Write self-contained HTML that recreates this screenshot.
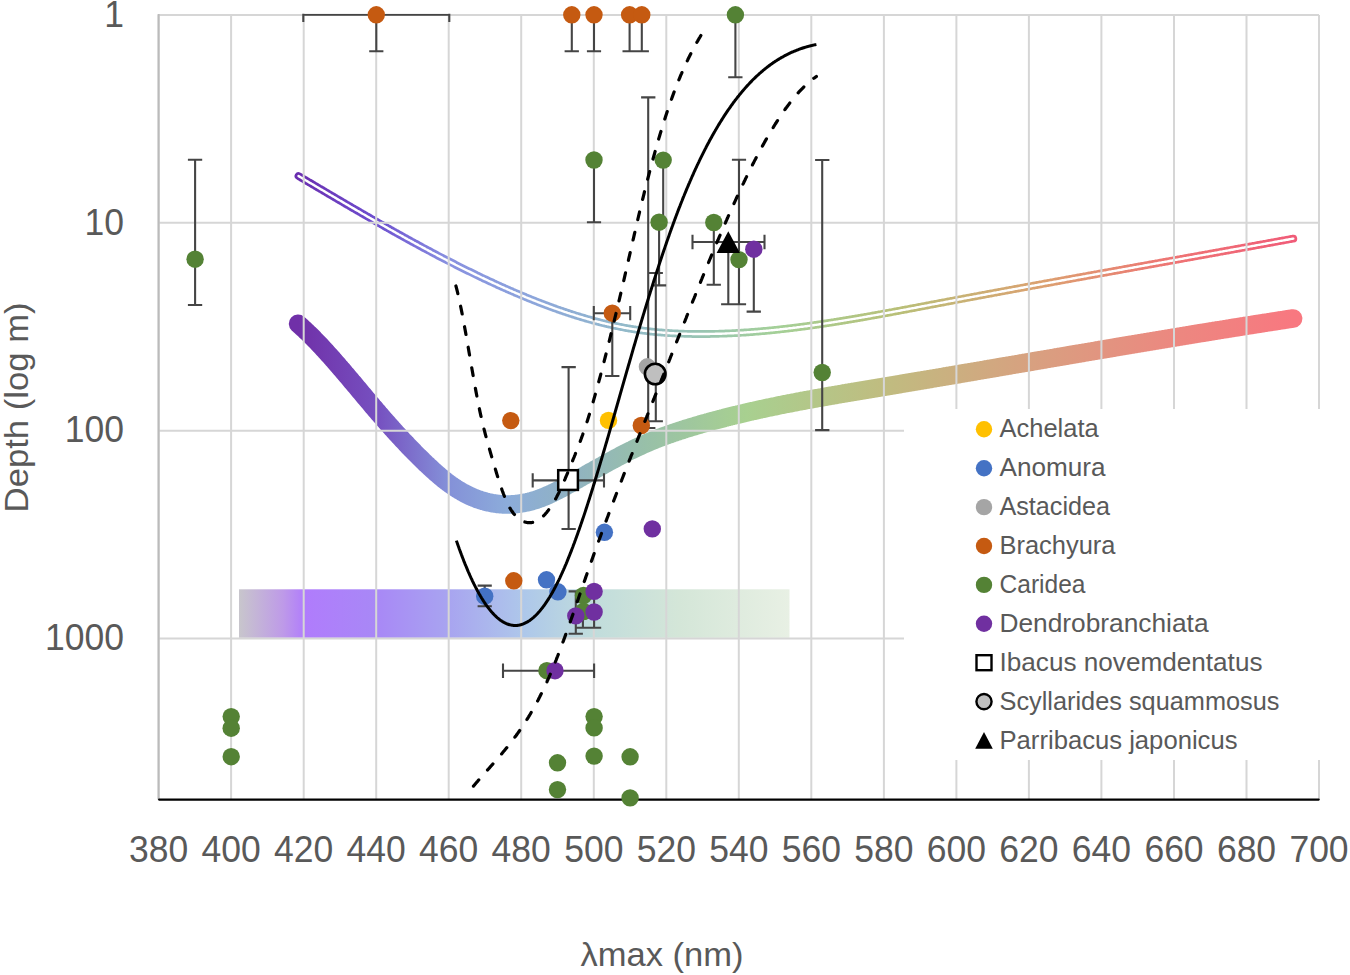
<!DOCTYPE html><html><head><meta charset="utf-8"><style>html,body{margin:0;padding:0;background:#fff;width:1350px;height:975px;overflow:hidden}svg{display:block}text{font-family:"Liberation Sans",sans-serif;fill:#595959}</style></head><body>
<svg width="1350" height="975" viewBox="0 0 1350 975">
<defs>
<linearGradient id="gThick" gradientUnits="userSpaceOnUse" x1="298" y1="0" x2="1293" y2="0"><stop offset="0" stop-color="#7030A8"/><stop offset="0.08" stop-color="#7650C0"/><stop offset="0.15" stop-color="#8490D8"/><stop offset="0.21" stop-color="#8CACDA"/><stop offset="0.27" stop-color="#90B2C4"/><stop offset="0.35" stop-color="#98C0A8"/><stop offset="0.45" stop-color="#A8D090"/><stop offset="0.59" stop-color="#C0BC80"/><stop offset="0.74" stop-color="#D8A080"/><stop offset="0.88" stop-color="#EC8880"/><stop offset="1" stop-color="#F87880"/></linearGradient>
<linearGradient id="gThin" gradientUnits="userSpaceOnUse" x1="298" y1="0" x2="1293" y2="0"><stop offset="0" stop-color="#6A2EB0"/><stop offset="0.08" stop-color="#6E50D0"/><stop offset="0.15" stop-color="#8890E0"/><stop offset="0.23" stop-color="#8CA4DC"/><stop offset="0.32" stop-color="#92B8CC"/><stop offset="0.40" stop-color="#98C4B4"/><stop offset="0.48" stop-color="#A4D098"/><stop offset="0.60" stop-color="#B8C078"/><stop offset="0.75" stop-color="#DCA070"/><stop offset="0.88" stop-color="#EE7474"/><stop offset="1" stop-color="#F05C78"/></linearGradient>
<linearGradient id="gBar" gradientUnits="userSpaceOnUse" x1="239" y1="0" x2="789.5" y2="0"><stop offset="0" stop-color="#C8C6CC"/><stop offset="0.08" stop-color="#BE9AE8"/><stop offset="0.12" stop-color="#B07CFC"/><stop offset="0.25" stop-color="#A888F6"/><stop offset="0.38" stop-color="#A8A4F0"/><stop offset="0.52" stop-color="#AEC8EA"/><stop offset="0.64" stop-color="#C0DCDC"/><stop offset="0.80" stop-color="#D4E6D8"/><stop offset="1" stop-color="#E8F0E4"/></linearGradient>
<clipPath id="plot"><rect x="156.6" y="13.7" width="1164.4" height="785.9"/></clipPath>
</defs>
<rect width="1350" height="975" fill="#fff"/>
<rect x="239" y="589.3" width="550.5" height="48.5" fill="url(#gBar)"/>
<path d="M298.1,323.8 L299.1,324.7 L300.1,325.6 L301.1,326.4 L302.1,327.4 L303.1,328.3 L304.1,329.2 L305.1,330.1 L306.1,331.1 L307.1,332.0 L308.1,333.0 L309.1,334.0 L310.1,334.9 L311.1,335.9 L312.1,336.9 L313.1,337.9 L314.1,338.9 L315.1,340.0 L316.1,341.0 L317.1,342.0 L318.1,343.1 L319.1,344.1 L320.1,345.2 L321.1,346.2 L322.1,347.3 L323.1,348.4 L324.1,349.5 L325.1,350.6 L326.1,351.6 L327.1,352.8 L328.1,353.9 L329.1,355.0 L330.1,356.1 L331.1,357.2 L332.1,358.3 L333.1,359.5 L334.1,360.6 L335.1,361.8 L336.1,362.9 L337.1,364.0 L338.1,365.2 L339.1,366.4 L340.1,367.5 L341.1,368.7 L342.1,369.8 L343.1,371.0 L344.1,372.2 L345.1,373.4 L346.1,374.5 L347.1,375.7 L348.1,376.9 L349.1,378.1 L350.1,379.3 L351.1,380.5 L352.1,381.7 L353.1,382.8 L354.1,384.0 L355.1,385.2 L356.1,386.4 L357.1,387.6 L358.1,388.8 L359.1,390.0 L360.1,391.2 L361.1,392.4 L362.1,393.6 L363.1,394.8 L364.1,396.0 L365.1,397.2 L366.1,398.4 L367.1,399.6 L368.1,400.7 L369.1,401.9 L370.1,403.1 L371.1,404.3 L372.1,405.5 L373.1,406.7 L374.1,407.8 L375.1,409.0 L376.1,410.2 L377.1,411.3 L378.1,412.5 L379.1,413.7 L380.1,414.8 L381.1,416.0 L382.1,417.1 L383.1,418.3 L384.1,419.4 L385.1,420.6 L386.1,421.7 L387.1,422.8 L388.1,424.0 L389.1,425.1 L390.1,426.2 L391.1,427.3 L392.1,428.5 L393.1,429.6 L394.1,430.7 L395.1,431.8 L396.1,432.9 L397.1,434.0 L398.1,435.1 L399.1,436.2 L400.1,437.2 L401.1,438.3 L402.1,439.4 L403.1,440.5 L404.1,441.5 L405.1,442.6 L406.1,443.7 L407.1,444.7 L408.1,445.8 L409.1,446.8 L410.1,447.8 L411.1,448.9 L412.1,449.9 L413.1,450.9 L414.1,451.9 L415.1,453.0 L416.1,454.0 L417.1,455.0 L418.1,456.0 L419.1,457.0 L420.1,457.9 L421.1,458.9 L422.1,459.9 L423.1,460.9 L424.1,461.8 L425.1,462.8 L426.1,463.8 L427.1,464.7 L428.1,465.7 L429.1,466.6 L430.1,467.5 L431.1,468.4 L432.1,469.4 L433.1,470.3 L434.1,471.2 L435.1,472.1 L436.1,473.0 L437.1,473.8 L438.1,474.7 L439.1,475.6 L440.1,476.4 L441.1,477.2 L442.1,478.1 L443.1,478.9 L444.1,479.7 L445.1,480.5 L446.1,481.3 L447.1,482.0 L448.1,482.8 L449.1,483.5 L450.1,484.3 L451.1,485.0 L452.1,485.7 L453.1,486.4 L454.1,487.0 L455.1,487.7 L456.1,488.4 L457.1,489.0 L458.1,489.6 L459.1,490.2 L460.1,490.8 L461.1,491.4 L462.1,492.0 L463.1,492.5 L464.1,493.1 L465.1,493.6 L466.1,494.1 L467.1,494.6 L468.1,495.1 L469.1,495.6 L470.1,496.1 L471.1,496.5 L472.1,497.0 L473.1,497.4 L474.1,497.8 L475.1,498.2 L476.1,498.6 L477.1,499.0 L478.1,499.3 L479.1,499.7 L480.1,500.0 L481.1,500.3 L482.1,500.7 L483.1,501.0 L484.1,501.2 L485.1,501.5 L486.1,501.8 L487.1,502.0 L488.1,502.3 L489.1,502.5 L490.1,502.7 L491.1,502.9 L492.1,503.1 L493.1,503.3 L494.1,503.5 L495.1,503.6 L496.1,503.7 L497.1,503.9 L498.1,504.0 L499.1,504.1 L500.1,504.2 L501.1,504.3 L502.1,504.3 L503.1,504.4 L504.1,504.4 L505.1,504.5 L506.1,504.5 L507.1,504.5 L508.1,504.5 L509.1,504.5 L510.1,504.5 L511.1,504.4 L512.1,504.4 L513.1,504.3 L514.1,504.2 L515.1,504.2 L516.1,504.1 L517.1,504.0 L518.1,503.8 L519.1,503.7 L520.1,503.6 L521.1,503.4 L522.1,503.2 L523.1,503.1 L524.1,502.9 L525.1,502.7 L526.1,502.5 L527.1,502.3 L528.1,502.0 L529.1,501.8 L530.1,501.5 L531.1,501.3 L532.1,501.0 L533.1,500.7 L534.1,500.4 L535.1,500.1 L536.1,499.8 L537.1,499.4 L538.1,499.1 L539.1,498.7 L540.1,498.4 L541.1,498.0 L542.1,497.6 L543.1,497.2 L544.1,496.8 L545.1,496.4 L546.1,496.0 L547.1,495.5 L548.1,495.1 L549.1,494.6 L550.1,494.2 L551.1,493.7 L552.1,493.2 L553.1,492.8 L554.1,492.3 L555.1,491.8 L556.1,491.3 L557.1,490.8 L558.1,490.2 L559.1,489.7 L560.1,489.2 L561.1,488.7 L562.1,488.1 L563.1,487.6 L564.1,487.0 L565.1,486.5 L566.1,486.0 L567.1,485.4 L568.1,484.8 L569.1,484.3 L570.1,483.7 L571.1,483.2 L572.1,482.6 L573.1,482.0 L574.1,481.4 L575.1,480.9 L576.1,480.3 L577.1,479.7 L578.1,479.2 L579.1,478.6 L580.1,478.0 L581.1,477.5 L582.1,476.9 L583.1,476.3 L584.1,475.7 L585.1,475.2 L586.1,474.6 L587.1,474.1 L588.1,473.5 L589.1,472.9 L590.1,472.4 L591.1,471.8 L592.1,471.2 L593.1,470.7 L594.1,470.1 L595.1,469.6 L596.1,469.0 L597.1,468.4 L598.1,467.9 L599.1,467.3 L600.1,466.8 L601.1,466.2 L602.1,465.7 L603.1,465.1 L604.1,464.6 L605.1,464.0 L606.1,463.5 L607.1,462.9 L608.1,462.4 L609.1,461.8 L610.1,461.3 L611.1,460.7 L612.1,460.2 L613.1,459.7 L614.1,459.1 L615.1,458.6 L616.1,458.1 L617.1,457.5 L618.1,457.0 L619.1,456.5 L620.1,455.9 L621.1,455.4 L622.1,454.9 L623.1,454.4 L624.1,453.9 L625.1,453.4 L626.1,452.8 L627.1,452.3 L628.1,451.8 L629.1,451.3 L630.1,450.8 L631.1,450.3 L632.1,449.9 L633.1,449.4 L634.1,448.9 L635.1,448.4 L636.1,447.9 L637.1,447.4 L638.1,447.0 L639.1,446.5 L640.1,446.1 L641.1,445.6 L642.1,445.1 L643.1,444.7 L644.1,444.2 L645.1,443.8 L646.1,443.4 L647.1,442.9 L648.1,442.5 L649.1,442.1 L650.1,441.7 L651.1,441.2 L652.1,440.8 L653.1,440.4 L654.1,440.0 L655.1,439.6 L656.1,439.2 L657.1,438.8 L658.1,438.4 L659.1,438.0 L660.1,437.7 L661.1,437.3 L662.1,436.9 L663.1,436.5 L664.1,436.2 L665.1,435.8 L666.1,435.4 L667.1,435.1 L668.1,434.7 L669.1,434.3 L670.1,434.0 L671.1,433.6 L672.1,433.3 L673.1,432.9 L674.1,432.6 L675.1,432.3 L676.1,431.9 L677.1,431.6 L678.1,431.3 L679.1,430.9 L680.1,430.6 L681.1,430.3 L682.1,430.0 L683.1,429.6 L684.1,429.3 L685.1,429.0 L686.1,428.7 L687.1,428.4 L688.1,428.1 L689.1,427.8 L690.1,427.5 L691.1,427.2 L692.1,426.9 L693.1,426.6 L694.1,426.3 L695.1,426.0 L696.1,425.7 L697.1,425.4 L698.1,425.1 L699.1,424.8 L700.1,424.5 L701.1,424.2 L702.1,423.9 L703.1,423.7 L704.1,423.4 L705.1,423.1 L706.1,422.8 L707.1,422.5 L708.1,422.3 L709.1,422.0 L710.1,421.7 L711.1,421.4 L712.1,421.2 L713.1,420.9 L714.1,420.6 L715.1,420.4 L716.1,420.1 L717.1,419.8 L718.1,419.6 L719.1,419.3 L720.1,419.0 L721.1,418.8 L722.1,418.5 L723.1,418.3 L724.1,418.0 L725.1,417.7 L726.1,417.5 L727.1,417.2 L728.1,417.0 L729.1,416.7 L730.1,416.5 L731.1,416.2 L732.1,416.0 L733.1,415.7 L734.1,415.5 L735.1,415.2 L736.1,415.0 L737.1,414.8 L738.1,414.5 L739.1,414.3 L740.1,414.0 L741.1,413.8 L742.1,413.6 L743.1,413.3 L744.1,413.1 L745.1,412.9 L746.1,412.6 L747.1,412.4 L748.1,412.2 L749.1,411.9 L750.1,411.7 L751.1,411.5 L752.1,411.2 L753.1,411.0 L754.1,410.8 L755.1,410.6 L756.1,410.3 L757.1,410.1 L758.1,409.9 L759.1,409.7 L760.1,409.5 L761.1,409.2 L762.1,409.0 L763.1,408.8 L764.1,408.6 L765.1,408.4 L766.1,408.2 L767.1,407.9 L768.1,407.7 L769.1,407.5 L770.1,407.3 L771.1,407.1 L772.1,406.9 L773.1,406.7 L774.1,406.5 L775.1,406.3 L776.1,406.1 L777.1,405.9 L778.1,405.7 L779.1,405.4 L780.1,405.2 L781.1,405.0 L782.1,404.8 L783.1,404.6 L784.1,404.4 L785.1,404.2 L786.1,404.0 L787.1,403.8 L788.1,403.6 L789.1,403.5 L790.1,403.3 L791.1,403.1 L792.1,402.9 L793.1,402.7 L794.1,402.5 L795.1,402.3 L796.1,402.1 L797.1,401.9 L798.1,401.7 L799.1,401.5 L800.1,401.3 L801.1,401.1 L802.1,401.0 L803.1,400.8 L804.1,400.6 L805.1,400.4 L806.1,400.2 L807.1,400.0 L808.1,399.8 L809.1,399.7 L810.1,399.5 L811.1,399.3 L812.1,399.1 L813.1,398.9 L814.1,398.7 L815.1,398.6 L816.1,398.4 L817.1,398.2 L818.1,398.0 L819.1,397.8 L820.1,397.7 L821.1,397.5 L822.1,397.3 L823.1,397.1 L824.1,396.9 L825.1,396.8 L826.1,396.6 L827.1,396.4 L828.1,396.2 L829.1,396.1 L830.1,395.9 L831.1,395.7 L832.1,395.5 L833.1,395.4 L834.1,395.2 L835.1,395.0 L836.1,394.9 L837.1,394.7 L838.1,394.5 L839.1,394.3 L840.1,394.2 L841.1,394.0 L842.1,393.8 L843.1,393.6 L844.1,393.5 L845.1,393.3 L846.1,393.1 L847.1,393.0 L848.1,392.8 L849.1,392.6 L850.1,392.5 L851.1,392.3 L852.1,392.1 L853.1,392.0 L854.1,391.8 L855.1,391.6 L856.1,391.4 L857.1,391.3 L858.1,391.1 L859.1,390.9 L860.1,390.8 L861.1,390.6 L862.1,390.4 L863.1,390.3 L864.1,390.1 L865.1,389.9 L866.1,389.8 L867.1,389.6 L868.1,389.4 L869.1,389.3 L870.1,389.1 L871.1,388.9 L872.1,388.8 L873.1,388.6 L874.1,388.4 L875.1,388.3 L876.1,388.1 L877.1,387.9 L878.1,387.8 L879.1,387.6 L880.1,387.4 L881.1,387.3 L882.1,387.1 L883.1,386.9 L884.1,386.8 L885.1,386.6 L886.1,386.4 L887.1,386.3 L888.1,386.1 L889.1,385.9 L890.1,385.8 L891.1,385.6 L892.1,385.4 L893.1,385.3 L894.1,385.1 L895.1,384.9 L896.1,384.8 L897.1,384.6 L898.1,384.4 L899.1,384.3 L900.1,384.1 L901.1,383.9 L902.1,383.7 L903.1,383.6 L904.1,383.4 L905.1,383.2 L906.1,383.1 L907.1,382.9 L908.1,382.7 L909.1,382.6 L910.1,382.4 L911.1,382.2 L912.1,382.1 L913.1,381.9 L914.1,381.7 L915.1,381.6 L916.1,381.4 L917.1,381.2 L918.1,381.1 L919.1,380.9 L920.1,380.7 L921.1,380.5 L922.1,380.4 L923.1,380.2 L924.1,380.0 L925.1,379.9 L926.1,379.7 L927.1,379.5 L928.1,379.4 L929.1,379.2 L930.1,379.0 L931.1,378.9 L932.1,378.7 L933.1,378.5 L934.1,378.3 L935.1,378.2 L936.1,378.0 L937.1,377.8 L938.1,377.7 L939.1,377.5 L940.1,377.3 L941.1,377.2 L942.1,377.0 L943.1,376.8 L944.1,376.6 L945.1,376.5 L946.1,376.3 L947.1,376.1 L948.1,376.0 L949.1,375.8 L950.1,375.6 L951.1,375.5 L952.1,375.3 L953.1,375.1 L954.1,374.9 L955.1,374.8 L956.1,374.6 L957.1,374.4 L958.1,374.3 L959.1,374.1 L960.1,373.9 L961.1,373.7 L962.1,373.6 L963.1,373.4 L964.1,373.2 L965.1,373.1 L966.1,372.9 L967.1,372.7 L968.1,372.5 L969.1,372.4 L970.1,372.2 L971.1,372.0 L972.1,371.9 L973.1,371.7 L974.1,371.5 L975.1,371.4 L976.1,371.2 L977.1,371.0 L978.1,370.8 L979.1,370.7 L980.1,370.5 L981.1,370.3 L982.1,370.2 L983.1,370.0 L984.1,369.8 L985.1,369.6 L986.1,369.5 L987.1,369.3 L988.1,369.1 L989.1,369.0 L990.1,368.8 L991.1,368.6 L992.1,368.4 L993.1,368.3 L994.1,368.1 L995.1,367.9 L996.1,367.8 L997.1,367.6 L998.1,367.4 L999.1,367.2 L1000.1,367.1 L1001.1,366.9 L1002.1,366.7 L1003.1,366.6 L1004.1,366.4 L1005.1,366.2 L1006.1,366.0 L1007.1,365.9 L1008.1,365.7 L1009.1,365.5 L1010.1,365.4 L1011.1,365.2 L1012.1,365.0 L1013.1,364.8 L1014.1,364.7 L1015.1,364.5 L1016.1,364.3 L1017.1,364.2 L1018.1,364.0 L1019.1,363.8 L1020.1,363.6 L1021.1,363.5 L1022.1,363.3 L1023.1,363.1 L1024.1,363.0 L1025.1,362.8 L1026.1,362.6 L1027.1,362.4 L1028.1,362.3 L1029.1,362.1 L1030.1,361.9 L1031.1,361.8 L1032.1,361.6 L1033.1,361.4 L1034.1,361.2 L1035.1,361.1 L1036.1,360.9 L1037.1,360.7 L1038.1,360.6 L1039.1,360.4 L1040.1,360.2 L1041.1,360.0 L1042.1,359.9 L1043.1,359.7 L1044.1,359.5 L1045.1,359.4 L1046.1,359.2 L1047.1,359.0 L1048.1,358.8 L1049.1,358.7 L1050.1,358.5 L1051.1,358.3 L1052.1,358.2 L1053.1,358.0 L1054.1,357.8 L1055.1,357.6 L1056.1,357.5 L1057.1,357.3 L1058.1,357.1 L1059.1,357.0 L1060.1,356.8 L1061.1,356.6 L1062.1,356.4 L1063.1,356.3 L1064.1,356.1 L1065.1,355.9 L1066.1,355.8 L1067.1,355.6 L1068.1,355.4 L1069.1,355.2 L1070.1,355.1 L1071.1,354.9 L1072.1,354.7 L1073.1,354.6 L1074.1,354.4 L1075.1,354.2 L1076.1,354.1 L1077.1,353.9 L1078.1,353.7 L1079.1,353.5 L1080.1,353.4 L1081.1,353.2 L1082.1,353.0 L1083.1,352.9 L1084.1,352.7 L1085.1,352.5 L1086.1,352.3 L1087.1,352.2 L1088.1,352.0 L1089.1,351.8 L1090.1,351.7 L1091.1,351.5 L1092.1,351.3 L1093.1,351.2 L1094.1,351.0 L1095.1,350.8 L1096.1,350.6 L1097.1,350.5 L1098.1,350.3 L1099.1,350.1 L1100.1,350.0 L1101.1,349.8 L1102.1,349.6 L1103.1,349.5 L1104.1,349.3 L1105.1,349.1 L1106.1,348.9 L1107.1,348.8 L1108.1,348.6 L1109.1,348.4 L1110.1,348.3 L1111.1,348.1 L1112.1,347.9 L1113.1,347.8 L1114.1,347.6 L1115.1,347.4 L1116.1,347.2 L1117.1,347.1 L1118.1,346.9 L1119.1,346.7 L1120.1,346.6 L1121.1,346.4 L1122.1,346.2 L1123.1,346.1 L1124.1,345.9 L1125.1,345.7 L1126.1,345.6 L1127.1,345.4 L1128.1,345.2 L1129.1,345.1 L1130.1,344.9 L1131.1,344.7 L1132.1,344.5 L1133.1,344.4 L1134.1,344.2 L1135.1,344.0 L1136.1,343.9 L1137.1,343.7 L1138.1,343.5 L1139.1,343.4 L1140.1,343.2 L1141.1,343.0 L1142.1,342.9 L1143.1,342.7 L1144.1,342.5 L1145.1,342.4 L1146.1,342.2 L1147.1,342.0 L1148.1,341.9 L1149.1,341.7 L1150.1,341.5 L1151.1,341.4 L1152.1,341.2 L1153.1,341.0 L1154.1,340.9 L1155.1,340.7 L1156.1,340.5 L1157.1,340.4 L1158.1,340.2 L1159.1,340.0 L1160.1,339.9 L1161.1,339.7 L1162.1,339.5 L1163.1,339.4 L1164.1,339.2 L1165.1,339.0 L1166.1,338.9 L1167.1,338.7 L1168.1,338.5 L1169.1,338.4 L1170.1,338.2 L1171.1,338.0 L1172.1,337.9 L1173.1,337.7 L1174.1,337.5 L1175.1,337.4 L1176.1,337.2 L1177.1,337.0 L1178.1,336.9 L1179.1,336.7 L1180.1,336.5 L1181.1,336.4 L1182.1,336.2 L1183.1,336.0 L1184.1,335.9 L1185.1,335.7 L1186.1,335.5 L1187.1,335.4 L1188.1,335.2 L1189.1,335.0 L1190.1,334.9 L1191.1,334.7 L1192.1,334.6 L1193.1,334.4 L1194.1,334.2 L1195.1,334.1 L1196.1,333.9 L1197.1,333.7 L1198.1,333.6 L1199.1,333.4 L1200.1,333.2 L1201.1,333.1 L1202.1,332.9 L1203.1,332.8 L1204.1,332.6 L1205.1,332.4 L1206.1,332.3 L1207.1,332.1 L1208.1,331.9 L1209.1,331.8 L1210.1,331.6 L1211.1,331.5 L1212.1,331.3 L1213.1,331.1 L1214.1,331.0 L1215.1,330.8 L1216.1,330.6 L1217.1,330.5 L1218.1,330.3 L1219.1,330.2 L1220.1,330.0 L1221.1,329.8 L1222.1,329.7 L1223.1,329.5 L1224.1,329.3 L1225.1,329.2 L1226.1,329.0 L1227.1,328.9 L1228.1,328.7 L1229.1,328.5 L1230.1,328.4 L1231.1,328.2 L1232.1,328.1 L1233.1,327.9 L1234.1,327.7 L1235.1,327.6 L1236.1,327.4 L1237.1,327.3 L1238.1,327.1 L1239.1,326.9 L1240.1,326.8 L1241.1,326.6 L1242.1,326.5 L1243.1,326.3 L1244.1,326.1 L1245.1,326.0 L1246.1,325.8 L1247.1,325.7 L1248.1,325.5 L1249.1,325.3 L1250.1,325.2 L1251.1,325.0 L1252.1,324.9 L1253.1,324.7 L1254.1,324.6 L1255.1,324.4 L1256.1,324.2 L1257.1,324.1 L1258.1,323.9 L1259.1,323.8 L1260.1,323.6 L1261.1,323.4 L1262.1,323.3 L1263.1,323.1 L1264.1,323.0 L1265.1,322.8 L1266.1,322.7 L1267.1,322.5 L1268.1,322.3 L1269.1,322.2 L1270.1,322.0 L1271.1,321.9 L1272.1,321.7 L1273.1,321.6 L1274.1,321.4 L1275.1,321.3 L1276.1,321.1 L1277.1,320.9 L1278.1,320.8 L1279.1,320.6 L1280.1,320.5 L1281.1,320.3 L1282.1,320.2 L1283.1,320.0 L1284.1,319.9 L1285.1,319.7 L1286.1,319.6 L1287.1,319.4 L1288.1,319.2 L1289.1,319.1 L1290.1,318.9 L1291.1,318.8 L1292.1,318.6 L1293.1,318.5" fill="none" stroke="url(#gThick)" stroke-width="18.6" stroke-linecap="round" stroke-linejoin="round"/>
<path d="M298.5,176.0 L299.5,176.6 L300.5,177.2 L301.5,177.8 L302.5,178.4 L303.5,179.0 L304.5,179.6 L305.5,180.2 L306.5,180.8 L307.5,181.4 L308.5,182.0 L309.5,182.6 L310.5,183.1 L311.5,183.7 L312.5,184.3 L313.5,184.9 L314.5,185.5 L315.5,186.1 L316.5,186.7 L317.5,187.3 L318.5,187.9 L319.5,188.5 L320.5,189.1 L321.5,189.6 L322.5,190.2 L323.5,190.8 L324.5,191.4 L325.5,192.0 L326.5,192.6 L327.5,193.2 L328.5,193.8 L329.5,194.4 L330.5,195.0 L331.5,195.5 L332.5,196.1 L333.5,196.7 L334.5,197.3 L335.5,197.9 L336.5,198.5 L337.5,199.1 L338.5,199.7 L339.5,200.3 L340.5,200.8 L341.5,201.4 L342.5,202.0 L343.5,202.6 L344.5,203.2 L345.5,203.8 L346.5,204.4 L347.5,204.9 L348.5,205.5 L349.5,206.1 L350.5,206.7 L351.5,207.3 L352.5,207.9 L353.5,208.4 L354.5,209.0 L355.5,209.6 L356.5,210.2 L357.5,210.8 L358.5,211.3 L359.5,211.9 L360.5,212.5 L361.5,213.1 L362.5,213.7 L363.5,214.2 L364.5,214.8 L365.5,215.4 L366.5,216.0 L367.5,216.6 L368.5,217.1 L369.5,217.7 L370.5,218.3 L371.5,218.9 L372.5,219.4 L373.5,220.0 L374.5,220.6 L375.5,221.2 L376.5,221.7 L377.5,222.3 L378.5,222.9 L379.5,223.4 L380.5,224.0 L381.5,224.6 L382.5,225.1 L383.5,225.7 L384.5,226.3 L385.5,226.9 L386.5,227.4 L387.5,228.0 L388.5,228.6 L389.5,229.1 L390.5,229.7 L391.5,230.2 L392.5,230.8 L393.5,231.4 L394.5,231.9 L395.5,232.5 L396.5,233.1 L397.5,233.6 L398.5,234.2 L399.5,234.7 L400.5,235.3 L401.5,235.8 L402.5,236.4 L403.5,237.0 L404.5,237.5 L405.5,238.1 L406.5,238.6 L407.5,239.2 L408.5,239.7 L409.5,240.3 L410.5,240.8 L411.5,241.4 L412.5,241.9 L413.5,242.5 L414.5,243.0 L415.5,243.6 L416.5,244.1 L417.5,244.6 L418.5,245.2 L419.5,245.7 L420.5,246.3 L421.5,246.8 L422.5,247.4 L423.5,247.9 L424.5,248.4 L425.5,249.0 L426.5,249.5 L427.5,250.0 L428.5,250.6 L429.5,251.1 L430.5,251.6 L431.5,252.2 L432.5,252.7 L433.5,253.2 L434.5,253.8 L435.5,254.3 L436.5,254.8 L437.5,255.4 L438.5,255.9 L439.5,256.4 L440.5,256.9 L441.5,257.4 L442.5,258.0 L443.5,258.5 L444.5,259.0 L445.5,259.5 L446.5,260.0 L447.5,260.6 L448.5,261.1 L449.5,261.6 L450.5,262.1 L451.5,262.6 L452.5,263.1 L453.5,263.6 L454.5,264.1 L455.5,264.7 L456.5,265.2 L457.5,265.7 L458.5,266.2 L459.5,266.7 L460.5,267.2 L461.5,267.7 L462.5,268.2 L463.5,268.7 L464.5,269.2 L465.5,269.7 L466.5,270.2 L467.5,270.7 L468.5,271.2 L469.5,271.6 L470.5,272.1 L471.5,272.6 L472.5,273.1 L473.5,273.6 L474.5,274.1 L475.5,274.6 L476.5,275.1 L477.5,275.5 L478.5,276.0 L479.5,276.5 L480.5,277.0 L481.5,277.5 L482.5,277.9 L483.5,278.4 L484.5,278.9 L485.5,279.3 L486.5,279.8 L487.5,280.3 L488.5,280.8 L489.5,281.2 L490.5,281.7 L491.5,282.1 L492.5,282.6 L493.5,283.1 L494.5,283.5 L495.5,284.0 L496.5,284.4 L497.5,284.9 L498.5,285.4 L499.5,285.8 L500.5,286.3 L501.5,286.7 L502.5,287.2 L503.5,287.6 L504.5,288.1 L505.5,288.5 L506.5,288.9 L507.5,289.4 L508.5,289.8 L509.5,290.3 L510.5,290.7 L511.5,291.1 L512.5,291.6 L513.5,292.0 L514.5,292.4 L515.5,292.9 L516.5,293.3 L517.5,293.7 L518.5,294.1 L519.5,294.6 L520.5,295.0 L521.5,295.4 L522.5,295.8 L523.5,296.2 L524.5,296.6 L525.5,297.1 L526.5,297.5 L527.5,297.9 L528.5,298.3 L529.5,298.7 L530.5,299.1 L531.5,299.5 L532.5,299.9 L533.5,300.3 L534.5,300.7 L535.5,301.1 L536.5,301.5 L537.5,301.9 L538.5,302.3 L539.5,302.7 L540.5,303.1 L541.5,303.4 L542.5,303.8 L543.5,304.2 L544.5,304.6 L545.5,305.0 L546.5,305.3 L547.5,305.7 L548.5,306.1 L549.5,306.5 L550.5,306.8 L551.5,307.2 L552.5,307.6 L553.5,307.9 L554.5,308.3 L555.5,308.6 L556.5,309.0 L557.5,309.4 L558.5,309.7 L559.5,310.1 L560.5,310.4 L561.5,310.7 L562.5,311.1 L563.5,311.4 L564.5,311.8 L565.5,312.1 L566.5,312.4 L567.5,312.8 L568.5,313.1 L569.5,313.4 L570.5,313.8 L571.5,314.1 L572.5,314.4 L573.5,314.7 L574.5,315.0 L575.5,315.4 L576.5,315.7 L577.5,316.0 L578.5,316.3 L579.5,316.6 L580.5,316.9 L581.5,317.2 L582.5,317.5 L583.5,317.8 L584.5,318.1 L585.5,318.4 L586.5,318.7 L587.5,319.0 L588.5,319.2 L589.5,319.5 L590.5,319.8 L591.5,320.1 L592.5,320.4 L593.5,320.6 L594.5,320.9 L595.5,321.2 L596.5,321.4 L597.5,321.7 L598.5,321.9 L599.5,322.2 L600.5,322.5 L601.5,322.7 L602.5,323.0 L603.5,323.2 L604.5,323.4 L605.5,323.7 L606.5,323.9 L607.5,324.2 L608.5,324.4 L609.5,324.6 L610.5,324.8 L611.5,325.1 L612.5,325.3 L613.5,325.5 L614.5,325.7 L615.5,325.9 L616.5,326.1 L617.5,326.3 L618.5,326.5 L619.5,326.7 L620.5,326.9 L621.5,327.1 L622.5,327.3 L623.5,327.5 L624.5,327.7 L625.5,327.9 L626.5,328.1 L627.5,328.2 L628.5,328.4 L629.5,328.6 L630.5,328.7 L631.5,328.9 L632.5,329.1 L633.5,329.2 L634.5,329.4 L635.5,329.5 L636.5,329.7 L637.5,329.8 L638.5,330.0 L639.5,330.1 L640.5,330.3 L641.5,330.4 L642.5,330.5 L643.5,330.7 L644.5,330.8 L645.5,330.9 L646.5,331.0 L647.5,331.1 L648.5,331.3 L649.5,331.4 L650.5,331.5 L651.5,331.6 L652.5,331.7 L653.5,331.8 L654.5,331.9 L655.5,332.0 L656.5,332.1 L657.5,332.2 L658.5,332.3 L659.5,332.4 L660.5,332.4 L661.5,332.5 L662.5,332.6 L663.5,332.7 L664.5,332.8 L665.5,332.8 L666.5,332.9 L667.5,333.0 L668.5,333.0 L669.5,333.1 L670.5,333.2 L671.5,333.2 L672.5,333.3 L673.5,333.3 L674.5,333.4 L675.5,333.4 L676.5,333.5 L677.5,333.5 L678.5,333.6 L679.5,333.6 L680.5,333.6 L681.5,333.7 L682.5,333.7 L683.5,333.7 L684.5,333.8 L685.5,333.8 L686.5,333.8 L687.5,333.9 L688.5,333.9 L689.5,333.9 L690.5,333.9 L691.5,333.9 L692.5,334.0 L693.5,334.0 L694.5,334.0 L695.5,334.0 L696.5,334.0 L697.5,334.0 L698.5,334.0 L699.5,334.0 L700.5,334.0 L701.5,334.0 L702.5,334.0 L703.5,334.0 L704.5,334.0 L705.5,334.0 L706.5,334.0 L707.5,334.0 L708.5,334.0 L709.5,334.0 L710.5,333.9 L711.5,333.9 L712.5,333.9 L713.5,333.9 L714.5,333.9 L715.5,333.8 L716.5,333.8 L717.5,333.8 L718.5,333.8 L719.5,333.7 L720.5,333.7 L721.5,333.7 L722.5,333.6 L723.5,333.6 L724.5,333.6 L725.5,333.5 L726.5,333.5 L727.5,333.4 L728.5,333.4 L729.5,333.4 L730.5,333.3 L731.5,333.3 L732.5,333.2 L733.5,333.2 L734.5,333.1 L735.5,333.1 L736.5,333.0 L737.5,333.0 L738.5,332.9 L739.5,332.8 L740.5,332.8 L741.5,332.7 L742.5,332.7 L743.5,332.6 L744.5,332.5 L745.5,332.5 L746.5,332.4 L747.5,332.3 L748.5,332.3 L749.5,332.2 L750.5,332.1 L751.5,332.0 L752.5,332.0 L753.5,331.9 L754.5,331.8 L755.5,331.7 L756.5,331.6 L757.5,331.6 L758.5,331.5 L759.5,331.4 L760.5,331.3 L761.5,331.2 L762.5,331.1 L763.5,331.0 L764.5,331.0 L765.5,330.9 L766.5,330.8 L767.5,330.7 L768.5,330.6 L769.5,330.5 L770.5,330.4 L771.5,330.3 L772.5,330.2 L773.5,330.1 L774.5,330.0 L775.5,329.9 L776.5,329.8 L777.5,329.7 L778.5,329.6 L779.5,329.5 L780.5,329.3 L781.5,329.2 L782.5,329.1 L783.5,329.0 L784.5,328.9 L785.5,328.8 L786.5,328.7 L787.5,328.6 L788.5,328.4 L789.5,328.3 L790.5,328.2 L791.5,328.1 L792.5,328.0 L793.5,327.8 L794.5,327.7 L795.5,327.6 L796.5,327.5 L797.5,327.3 L798.5,327.2 L799.5,327.1 L800.5,326.9 L801.5,326.8 L802.5,326.7 L803.5,326.6 L804.5,326.4 L805.5,326.3 L806.5,326.2 L807.5,326.0 L808.5,325.9 L809.5,325.7 L810.5,325.6 L811.5,325.5 L812.5,325.3 L813.5,325.2 L814.5,325.0 L815.5,324.9 L816.5,324.8 L817.5,324.6 L818.5,324.5 L819.5,324.3 L820.5,324.2 L821.5,324.0 L822.5,323.9 L823.5,323.7 L824.5,323.6 L825.5,323.4 L826.5,323.3 L827.5,323.1 L828.5,323.0 L829.5,322.8 L830.5,322.7 L831.5,322.5 L832.5,322.4 L833.5,322.2 L834.5,322.0 L835.5,321.9 L836.5,321.7 L837.5,321.6 L838.5,321.4 L839.5,321.2 L840.5,321.1 L841.5,320.9 L842.5,320.8 L843.5,320.6 L844.5,320.4 L845.5,320.3 L846.5,320.1 L847.5,319.9 L848.5,319.8 L849.5,319.6 L850.5,319.4 L851.5,319.3 L852.5,319.1 L853.5,318.9 L854.5,318.8 L855.5,318.6 L856.5,318.4 L857.5,318.3 L858.5,318.1 L859.5,317.9 L860.5,317.7 L861.5,317.6 L862.5,317.4 L863.5,317.2 L864.5,317.0 L865.5,316.9 L866.5,316.7 L867.5,316.5 L868.5,316.3 L869.5,316.2 L870.5,316.0 L871.5,315.8 L872.5,315.6 L873.5,315.4 L874.5,315.3 L875.5,315.1 L876.5,314.9 L877.5,314.7 L878.5,314.5 L879.5,314.4 L880.5,314.2 L881.5,314.0 L882.5,313.8 L883.5,313.6 L884.5,313.5 L885.5,313.3 L886.5,313.1 L887.5,312.9 L888.5,312.7 L889.5,312.5 L890.5,312.4 L891.5,312.2 L892.5,312.0 L893.5,311.8 L894.5,311.6 L895.5,311.4 L896.5,311.2 L897.5,311.1 L898.5,310.9 L899.5,310.7 L900.5,310.5 L901.5,310.3 L902.5,310.1 L903.5,309.9 L904.5,309.7 L905.5,309.6 L906.5,309.4 L907.5,309.2 L908.5,309.0 L909.5,308.8 L910.5,308.6 L911.5,308.4 L912.5,308.2 L913.5,308.1 L914.5,307.9 L915.5,307.7 L916.5,307.5 L917.5,307.3 L918.5,307.1 L919.5,306.9 L920.5,306.7 L921.5,306.5 L922.5,306.3 L923.5,306.2 L924.5,306.0 L925.5,305.8 L926.5,305.6 L927.5,305.4 L928.5,305.2 L929.5,305.0 L930.5,304.8 L931.5,304.6 L932.5,304.4 L933.5,304.3 L934.5,304.1 L935.5,303.9 L936.5,303.7 L937.5,303.5 L938.5,303.3 L939.5,303.1 L940.5,302.9 L941.5,302.7 L942.5,302.6 L943.5,302.4 L944.5,302.2 L945.5,302.0 L946.5,301.8 L947.5,301.6 L948.5,301.4 L949.5,301.2 L950.5,301.0 L951.5,300.9 L952.5,300.7 L953.5,300.5 L954.5,300.3 L955.5,300.1 L956.5,299.9 L957.5,299.7 L958.5,299.5 L959.5,299.3 L960.5,299.2 L961.5,299.0 L962.5,298.8 L963.5,298.6 L964.5,298.4 L965.5,298.2 L966.5,298.0 L967.5,297.8 L968.5,297.7 L969.5,297.5 L970.5,297.3 L971.5,297.1 L972.5,296.9 L973.5,296.7 L974.5,296.5 L975.5,296.4 L976.5,296.2 L977.5,296.0 L978.5,295.8 L979.5,295.6 L980.5,295.4 L981.5,295.2 L982.5,295.0 L983.5,294.9 L984.5,294.7 L985.5,294.5 L986.5,294.3 L987.5,294.1 L988.5,293.9 L989.5,293.7 L990.5,293.6 L991.5,293.4 L992.5,293.2 L993.5,293.0 L994.5,292.8 L995.5,292.6 L996.5,292.5 L997.5,292.3 L998.5,292.1 L999.5,291.9 L1000.5,291.7 L1001.5,291.5 L1002.5,291.3 L1003.5,291.2 L1004.5,291.0 L1005.5,290.8 L1006.5,290.6 L1007.5,290.4 L1008.5,290.2 L1009.5,290.0 L1010.5,289.9 L1011.5,289.7 L1012.5,289.5 L1013.5,289.3 L1014.5,289.1 L1015.5,288.9 L1016.5,288.8 L1017.5,288.6 L1018.5,288.4 L1019.5,288.2 L1020.5,288.0 L1021.5,287.8 L1022.5,287.7 L1023.5,287.5 L1024.5,287.3 L1025.5,287.1 L1026.5,286.9 L1027.5,286.7 L1028.5,286.6 L1029.5,286.4 L1030.5,286.2 L1031.5,286.0 L1032.5,285.8 L1033.5,285.6 L1034.5,285.5 L1035.5,285.3 L1036.5,285.1 L1037.5,284.9 L1038.5,284.7 L1039.5,284.5 L1040.5,284.4 L1041.5,284.2 L1042.5,284.0 L1043.5,283.8 L1044.5,283.6 L1045.5,283.4 L1046.5,283.3 L1047.5,283.1 L1048.5,282.9 L1049.5,282.7 L1050.5,282.5 L1051.5,282.4 L1052.5,282.2 L1053.5,282.0 L1054.5,281.8 L1055.5,281.6 L1056.5,281.4 L1057.5,281.3 L1058.5,281.1 L1059.5,280.9 L1060.5,280.7 L1061.5,280.5 L1062.5,280.3 L1063.5,280.2 L1064.5,280.0 L1065.5,279.8 L1066.5,279.6 L1067.5,279.4 L1068.5,279.3 L1069.5,279.1 L1070.5,278.9 L1071.5,278.7 L1072.5,278.5 L1073.5,278.3 L1074.5,278.2 L1075.5,278.0 L1076.5,277.8 L1077.5,277.6 L1078.5,277.4 L1079.5,277.3 L1080.5,277.1 L1081.5,276.9 L1082.5,276.7 L1083.5,276.5 L1084.5,276.4 L1085.5,276.2 L1086.5,276.0 L1087.5,275.8 L1088.5,275.6 L1089.5,275.4 L1090.5,275.3 L1091.5,275.1 L1092.5,274.9 L1093.5,274.7 L1094.5,274.5 L1095.5,274.4 L1096.5,274.2 L1097.5,274.0 L1098.5,273.8 L1099.5,273.6 L1100.5,273.5 L1101.5,273.3 L1102.5,273.1 L1103.5,272.9 L1104.5,272.7 L1105.5,272.6 L1106.5,272.4 L1107.5,272.2 L1108.5,272.0 L1109.5,271.8 L1110.5,271.7 L1111.5,271.5 L1112.5,271.3 L1113.5,271.1 L1114.5,270.9 L1115.5,270.8 L1116.5,270.6 L1117.5,270.4 L1118.5,270.2 L1119.5,270.0 L1120.5,269.9 L1121.5,269.7 L1122.5,269.5 L1123.5,269.3 L1124.5,269.1 L1125.5,268.9 L1126.5,268.8 L1127.5,268.6 L1128.5,268.4 L1129.5,268.2 L1130.5,268.0 L1131.5,267.9 L1132.5,267.7 L1133.5,267.5 L1134.5,267.3 L1135.5,267.1 L1136.5,267.0 L1137.5,266.8 L1138.5,266.6 L1139.5,266.4 L1140.5,266.2 L1141.5,266.1 L1142.5,265.9 L1143.5,265.7 L1144.5,265.5 L1145.5,265.3 L1146.5,265.2 L1147.5,265.0 L1148.5,264.8 L1149.5,264.6 L1150.5,264.4 L1151.5,264.3 L1152.5,264.1 L1153.5,263.9 L1154.5,263.7 L1155.5,263.5 L1156.5,263.4 L1157.5,263.2 L1158.5,263.0 L1159.5,262.8 L1160.5,262.6 L1161.5,262.5 L1162.5,262.3 L1163.5,262.1 L1164.5,261.9 L1165.5,261.7 L1166.5,261.6 L1167.5,261.4 L1168.5,261.2 L1169.5,261.0 L1170.5,260.8 L1171.5,260.7 L1172.5,260.5 L1173.5,260.3 L1174.5,260.1 L1175.5,259.9 L1176.5,259.8 L1177.5,259.6 L1178.5,259.4 L1179.5,259.2 L1180.5,259.0 L1181.5,258.9 L1182.5,258.7 L1183.5,258.5 L1184.5,258.3 L1185.5,258.1 L1186.5,258.0 L1187.5,257.8 L1188.5,257.6 L1189.5,257.4 L1190.5,257.2 L1191.5,257.1 L1192.5,256.9 L1193.5,256.7 L1194.5,256.5 L1195.5,256.3 L1196.5,256.2 L1197.5,256.0 L1198.5,255.8 L1199.5,255.6 L1200.5,255.4 L1201.5,255.3 L1202.5,255.1 L1203.5,254.9 L1204.5,254.7 L1205.5,254.5 L1206.5,254.4 L1207.5,254.2 L1208.5,254.0 L1209.5,253.8 L1210.5,253.6 L1211.5,253.5 L1212.5,253.3 L1213.5,253.1 L1214.5,252.9 L1215.5,252.7 L1216.5,252.6 L1217.5,252.4 L1218.5,252.2 L1219.5,252.0 L1220.5,251.8 L1221.5,251.6 L1222.5,251.5 L1223.5,251.3 L1224.5,251.1 L1225.5,250.9 L1226.5,250.7 L1227.5,250.6 L1228.5,250.4 L1229.5,250.2 L1230.5,250.0 L1231.5,249.8 L1232.5,249.7 L1233.5,249.5 L1234.5,249.3 L1235.5,249.1 L1236.5,248.9 L1237.5,248.8 L1238.5,248.6 L1239.5,248.4 L1240.5,248.2 L1241.5,248.0 L1242.5,247.8 L1243.5,247.7 L1244.5,247.5 L1245.5,247.3 L1246.5,247.1 L1247.5,246.9 L1248.5,246.8 L1249.5,246.6 L1250.5,246.4 L1251.5,246.2 L1252.5,246.0 L1253.5,245.9 L1254.5,245.7 L1255.5,245.5 L1256.5,245.3 L1257.5,245.1 L1258.5,244.9 L1259.5,244.8 L1260.5,244.6 L1261.5,244.4 L1262.5,244.2 L1263.5,244.0 L1264.5,243.9 L1265.5,243.7 L1266.5,243.5 L1267.5,243.3 L1268.5,243.1 L1269.5,242.9 L1270.5,242.8 L1271.5,242.6 L1272.5,242.4 L1273.5,242.2 L1274.5,242.0 L1275.5,241.8 L1276.5,241.7 L1277.5,241.5 L1278.5,241.3 L1279.5,241.1 L1280.5,240.9 L1281.5,240.7 L1282.5,240.6 L1283.5,240.4 L1284.5,240.2 L1285.5,240.0 L1286.5,239.8 L1287.5,239.7 L1288.5,239.5 L1289.5,239.3 L1290.5,239.1 L1291.5,238.9 L1292.5,238.7 L1293.3,238.6" fill="none" stroke="url(#gThin)" stroke-width="7.8" stroke-linecap="round" stroke-linejoin="round"/>
<path d="M298.5,176.0 L299.5,176.6 L300.5,177.2 L301.5,177.8 L302.5,178.4 L303.5,179.0 L304.5,179.6 L305.5,180.2 L306.5,180.8 L307.5,181.4 L308.5,182.0 L309.5,182.6 L310.5,183.1 L311.5,183.7 L312.5,184.3 L313.5,184.9 L314.5,185.5 L315.5,186.1 L316.5,186.7 L317.5,187.3 L318.5,187.9 L319.5,188.5 L320.5,189.1 L321.5,189.6 L322.5,190.2 L323.5,190.8 L324.5,191.4 L325.5,192.0 L326.5,192.6 L327.5,193.2 L328.5,193.8 L329.5,194.4 L330.5,195.0 L331.5,195.5 L332.5,196.1 L333.5,196.7 L334.5,197.3 L335.5,197.9 L336.5,198.5 L337.5,199.1 L338.5,199.7 L339.5,200.3 L340.5,200.8 L341.5,201.4 L342.5,202.0 L343.5,202.6 L344.5,203.2 L345.5,203.8 L346.5,204.4 L347.5,204.9 L348.5,205.5 L349.5,206.1 L350.5,206.7 L351.5,207.3 L352.5,207.9 L353.5,208.4 L354.5,209.0 L355.5,209.6 L356.5,210.2 L357.5,210.8 L358.5,211.3 L359.5,211.9 L360.5,212.5 L361.5,213.1 L362.5,213.7 L363.5,214.2 L364.5,214.8 L365.5,215.4 L366.5,216.0 L367.5,216.6 L368.5,217.1 L369.5,217.7 L370.5,218.3 L371.5,218.9 L372.5,219.4 L373.5,220.0 L374.5,220.6 L375.5,221.2 L376.5,221.7 L377.5,222.3 L378.5,222.9 L379.5,223.4 L380.5,224.0 L381.5,224.6 L382.5,225.1 L383.5,225.7 L384.5,226.3 L385.5,226.9 L386.5,227.4 L387.5,228.0 L388.5,228.6 L389.5,229.1 L390.5,229.7 L391.5,230.2 L392.5,230.8 L393.5,231.4 L394.5,231.9 L395.5,232.5 L396.5,233.1 L397.5,233.6 L398.5,234.2 L399.5,234.7 L400.5,235.3 L401.5,235.8 L402.5,236.4 L403.5,237.0 L404.5,237.5 L405.5,238.1 L406.5,238.6 L407.5,239.2 L408.5,239.7 L409.5,240.3 L410.5,240.8 L411.5,241.4 L412.5,241.9 L413.5,242.5 L414.5,243.0 L415.5,243.6 L416.5,244.1 L417.5,244.6 L418.5,245.2 L419.5,245.7 L420.5,246.3 L421.5,246.8 L422.5,247.4 L423.5,247.9 L424.5,248.4 L425.5,249.0 L426.5,249.5 L427.5,250.0 L428.5,250.6 L429.5,251.1 L430.5,251.6 L431.5,252.2 L432.5,252.7 L433.5,253.2 L434.5,253.8 L435.5,254.3 L436.5,254.8 L437.5,255.4 L438.5,255.9 L439.5,256.4 L440.5,256.9 L441.5,257.4 L442.5,258.0 L443.5,258.5 L444.5,259.0 L445.5,259.5 L446.5,260.0 L447.5,260.6 L448.5,261.1 L449.5,261.6 L450.5,262.1 L451.5,262.6 L452.5,263.1 L453.5,263.6 L454.5,264.1 L455.5,264.7 L456.5,265.2 L457.5,265.7 L458.5,266.2 L459.5,266.7 L460.5,267.2 L461.5,267.7 L462.5,268.2 L463.5,268.7 L464.5,269.2 L465.5,269.7 L466.5,270.2 L467.5,270.7 L468.5,271.2 L469.5,271.6 L470.5,272.1 L471.5,272.6 L472.5,273.1 L473.5,273.6 L474.5,274.1 L475.5,274.6 L476.5,275.1 L477.5,275.5 L478.5,276.0 L479.5,276.5 L480.5,277.0 L481.5,277.5 L482.5,277.9 L483.5,278.4 L484.5,278.9 L485.5,279.3 L486.5,279.8 L487.5,280.3 L488.5,280.8 L489.5,281.2 L490.5,281.7 L491.5,282.1 L492.5,282.6 L493.5,283.1 L494.5,283.5 L495.5,284.0 L496.5,284.4 L497.5,284.9 L498.5,285.4 L499.5,285.8 L500.5,286.3 L501.5,286.7 L502.5,287.2 L503.5,287.6 L504.5,288.1 L505.5,288.5 L506.5,288.9 L507.5,289.4 L508.5,289.8 L509.5,290.3 L510.5,290.7 L511.5,291.1 L512.5,291.6 L513.5,292.0 L514.5,292.4 L515.5,292.9 L516.5,293.3 L517.5,293.7 L518.5,294.1 L519.5,294.6 L520.5,295.0 L521.5,295.4 L522.5,295.8 L523.5,296.2 L524.5,296.6 L525.5,297.1 L526.5,297.5 L527.5,297.9 L528.5,298.3 L529.5,298.7 L530.5,299.1 L531.5,299.5 L532.5,299.9 L533.5,300.3 L534.5,300.7 L535.5,301.1 L536.5,301.5 L537.5,301.9 L538.5,302.3 L539.5,302.7 L540.5,303.1 L541.5,303.4 L542.5,303.8 L543.5,304.2 L544.5,304.6 L545.5,305.0 L546.5,305.3 L547.5,305.7 L548.5,306.1 L549.5,306.5 L550.5,306.8 L551.5,307.2 L552.5,307.6 L553.5,307.9 L554.5,308.3 L555.5,308.6 L556.5,309.0 L557.5,309.4 L558.5,309.7 L559.5,310.1 L560.5,310.4 L561.5,310.7 L562.5,311.1 L563.5,311.4 L564.5,311.8 L565.5,312.1 L566.5,312.4 L567.5,312.8 L568.5,313.1 L569.5,313.4 L570.5,313.8 L571.5,314.1 L572.5,314.4 L573.5,314.7 L574.5,315.0 L575.5,315.4 L576.5,315.7 L577.5,316.0 L578.5,316.3 L579.5,316.6 L580.5,316.9 L581.5,317.2 L582.5,317.5 L583.5,317.8 L584.5,318.1 L585.5,318.4 L586.5,318.7 L587.5,319.0 L588.5,319.2 L589.5,319.5 L590.5,319.8 L591.5,320.1 L592.5,320.4 L593.5,320.6 L594.5,320.9 L595.5,321.2 L596.5,321.4 L597.5,321.7 L598.5,321.9 L599.5,322.2 L600.5,322.5 L601.5,322.7 L602.5,323.0 L603.5,323.2 L604.5,323.4 L605.5,323.7 L606.5,323.9 L607.5,324.2 L608.5,324.4 L609.5,324.6 L610.5,324.8 L611.5,325.1 L612.5,325.3 L613.5,325.5 L614.5,325.7 L615.5,325.9 L616.5,326.1 L617.5,326.3 L618.5,326.5 L619.5,326.7 L620.5,326.9 L621.5,327.1 L622.5,327.3 L623.5,327.5 L624.5,327.7 L625.5,327.9 L626.5,328.1 L627.5,328.2 L628.5,328.4 L629.5,328.6 L630.5,328.7 L631.5,328.9 L632.5,329.1 L633.5,329.2 L634.5,329.4 L635.5,329.5 L636.5,329.7 L637.5,329.8 L638.5,330.0 L639.5,330.1 L640.5,330.3 L641.5,330.4 L642.5,330.5 L643.5,330.7 L644.5,330.8 L645.5,330.9 L646.5,331.0 L647.5,331.1 L648.5,331.3 L649.5,331.4 L650.5,331.5 L651.5,331.6 L652.5,331.7 L653.5,331.8 L654.5,331.9 L655.5,332.0 L656.5,332.1 L657.5,332.2 L658.5,332.3 L659.5,332.4 L660.5,332.4 L661.5,332.5 L662.5,332.6 L663.5,332.7 L664.5,332.8 L665.5,332.8 L666.5,332.9 L667.5,333.0 L668.5,333.0 L669.5,333.1 L670.5,333.2 L671.5,333.2 L672.5,333.3 L673.5,333.3 L674.5,333.4 L675.5,333.4 L676.5,333.5 L677.5,333.5 L678.5,333.6 L679.5,333.6 L680.5,333.6 L681.5,333.7 L682.5,333.7 L683.5,333.7 L684.5,333.8 L685.5,333.8 L686.5,333.8 L687.5,333.9 L688.5,333.9 L689.5,333.9 L690.5,333.9 L691.5,333.9 L692.5,334.0 L693.5,334.0 L694.5,334.0 L695.5,334.0 L696.5,334.0 L697.5,334.0 L698.5,334.0 L699.5,334.0 L700.5,334.0 L701.5,334.0 L702.5,334.0 L703.5,334.0 L704.5,334.0 L705.5,334.0 L706.5,334.0 L707.5,334.0 L708.5,334.0 L709.5,334.0 L710.5,333.9 L711.5,333.9 L712.5,333.9 L713.5,333.9 L714.5,333.9 L715.5,333.8 L716.5,333.8 L717.5,333.8 L718.5,333.8 L719.5,333.7 L720.5,333.7 L721.5,333.7 L722.5,333.6 L723.5,333.6 L724.5,333.6 L725.5,333.5 L726.5,333.5 L727.5,333.4 L728.5,333.4 L729.5,333.4 L730.5,333.3 L731.5,333.3 L732.5,333.2 L733.5,333.2 L734.5,333.1 L735.5,333.1 L736.5,333.0 L737.5,333.0 L738.5,332.9 L739.5,332.8 L740.5,332.8 L741.5,332.7 L742.5,332.7 L743.5,332.6 L744.5,332.5 L745.5,332.5 L746.5,332.4 L747.5,332.3 L748.5,332.3 L749.5,332.2 L750.5,332.1 L751.5,332.0 L752.5,332.0 L753.5,331.9 L754.5,331.8 L755.5,331.7 L756.5,331.6 L757.5,331.6 L758.5,331.5 L759.5,331.4 L760.5,331.3 L761.5,331.2 L762.5,331.1 L763.5,331.0 L764.5,331.0 L765.5,330.9 L766.5,330.8 L767.5,330.7 L768.5,330.6 L769.5,330.5 L770.5,330.4 L771.5,330.3 L772.5,330.2 L773.5,330.1 L774.5,330.0 L775.5,329.9 L776.5,329.8 L777.5,329.7 L778.5,329.6 L779.5,329.5 L780.5,329.3 L781.5,329.2 L782.5,329.1 L783.5,329.0 L784.5,328.9 L785.5,328.8 L786.5,328.7 L787.5,328.6 L788.5,328.4 L789.5,328.3 L790.5,328.2 L791.5,328.1 L792.5,328.0 L793.5,327.8 L794.5,327.7 L795.5,327.6 L796.5,327.5 L797.5,327.3 L798.5,327.2 L799.5,327.1 L800.5,326.9 L801.5,326.8 L802.5,326.7 L803.5,326.6 L804.5,326.4 L805.5,326.3 L806.5,326.2 L807.5,326.0 L808.5,325.9 L809.5,325.7 L810.5,325.6 L811.5,325.5 L812.5,325.3 L813.5,325.2 L814.5,325.0 L815.5,324.9 L816.5,324.8 L817.5,324.6 L818.5,324.5 L819.5,324.3 L820.5,324.2 L821.5,324.0 L822.5,323.9 L823.5,323.7 L824.5,323.6 L825.5,323.4 L826.5,323.3 L827.5,323.1 L828.5,323.0 L829.5,322.8 L830.5,322.7 L831.5,322.5 L832.5,322.4 L833.5,322.2 L834.5,322.0 L835.5,321.9 L836.5,321.7 L837.5,321.6 L838.5,321.4 L839.5,321.2 L840.5,321.1 L841.5,320.9 L842.5,320.8 L843.5,320.6 L844.5,320.4 L845.5,320.3 L846.5,320.1 L847.5,319.9 L848.5,319.8 L849.5,319.6 L850.5,319.4 L851.5,319.3 L852.5,319.1 L853.5,318.9 L854.5,318.8 L855.5,318.6 L856.5,318.4 L857.5,318.3 L858.5,318.1 L859.5,317.9 L860.5,317.7 L861.5,317.6 L862.5,317.4 L863.5,317.2 L864.5,317.0 L865.5,316.9 L866.5,316.7 L867.5,316.5 L868.5,316.3 L869.5,316.2 L870.5,316.0 L871.5,315.8 L872.5,315.6 L873.5,315.4 L874.5,315.3 L875.5,315.1 L876.5,314.9 L877.5,314.7 L878.5,314.5 L879.5,314.4 L880.5,314.2 L881.5,314.0 L882.5,313.8 L883.5,313.6 L884.5,313.5 L885.5,313.3 L886.5,313.1 L887.5,312.9 L888.5,312.7 L889.5,312.5 L890.5,312.4 L891.5,312.2 L892.5,312.0 L893.5,311.8 L894.5,311.6 L895.5,311.4 L896.5,311.2 L897.5,311.1 L898.5,310.9 L899.5,310.7 L900.5,310.5 L901.5,310.3 L902.5,310.1 L903.5,309.9 L904.5,309.7 L905.5,309.6 L906.5,309.4 L907.5,309.2 L908.5,309.0 L909.5,308.8 L910.5,308.6 L911.5,308.4 L912.5,308.2 L913.5,308.1 L914.5,307.9 L915.5,307.7 L916.5,307.5 L917.5,307.3 L918.5,307.1 L919.5,306.9 L920.5,306.7 L921.5,306.5 L922.5,306.3 L923.5,306.2 L924.5,306.0 L925.5,305.8 L926.5,305.6 L927.5,305.4 L928.5,305.2 L929.5,305.0 L930.5,304.8 L931.5,304.6 L932.5,304.4 L933.5,304.3 L934.5,304.1 L935.5,303.9 L936.5,303.7 L937.5,303.5 L938.5,303.3 L939.5,303.1 L940.5,302.9 L941.5,302.7 L942.5,302.6 L943.5,302.4 L944.5,302.2 L945.5,302.0 L946.5,301.8 L947.5,301.6 L948.5,301.4 L949.5,301.2 L950.5,301.0 L951.5,300.9 L952.5,300.7 L953.5,300.5 L954.5,300.3 L955.5,300.1 L956.5,299.9 L957.5,299.7 L958.5,299.5 L959.5,299.3 L960.5,299.2 L961.5,299.0 L962.5,298.8 L963.5,298.6 L964.5,298.4 L965.5,298.2 L966.5,298.0 L967.5,297.8 L968.5,297.7 L969.5,297.5 L970.5,297.3 L971.5,297.1 L972.5,296.9 L973.5,296.7 L974.5,296.5 L975.5,296.4 L976.5,296.2 L977.5,296.0 L978.5,295.8 L979.5,295.6 L980.5,295.4 L981.5,295.2 L982.5,295.0 L983.5,294.9 L984.5,294.7 L985.5,294.5 L986.5,294.3 L987.5,294.1 L988.5,293.9 L989.5,293.7 L990.5,293.6 L991.5,293.4 L992.5,293.2 L993.5,293.0 L994.5,292.8 L995.5,292.6 L996.5,292.5 L997.5,292.3 L998.5,292.1 L999.5,291.9 L1000.5,291.7 L1001.5,291.5 L1002.5,291.3 L1003.5,291.2 L1004.5,291.0 L1005.5,290.8 L1006.5,290.6 L1007.5,290.4 L1008.5,290.2 L1009.5,290.0 L1010.5,289.9 L1011.5,289.7 L1012.5,289.5 L1013.5,289.3 L1014.5,289.1 L1015.5,288.9 L1016.5,288.8 L1017.5,288.6 L1018.5,288.4 L1019.5,288.2 L1020.5,288.0 L1021.5,287.8 L1022.5,287.7 L1023.5,287.5 L1024.5,287.3 L1025.5,287.1 L1026.5,286.9 L1027.5,286.7 L1028.5,286.6 L1029.5,286.4 L1030.5,286.2 L1031.5,286.0 L1032.5,285.8 L1033.5,285.6 L1034.5,285.5 L1035.5,285.3 L1036.5,285.1 L1037.5,284.9 L1038.5,284.7 L1039.5,284.5 L1040.5,284.4 L1041.5,284.2 L1042.5,284.0 L1043.5,283.8 L1044.5,283.6 L1045.5,283.4 L1046.5,283.3 L1047.5,283.1 L1048.5,282.9 L1049.5,282.7 L1050.5,282.5 L1051.5,282.4 L1052.5,282.2 L1053.5,282.0 L1054.5,281.8 L1055.5,281.6 L1056.5,281.4 L1057.5,281.3 L1058.5,281.1 L1059.5,280.9 L1060.5,280.7 L1061.5,280.5 L1062.5,280.3 L1063.5,280.2 L1064.5,280.0 L1065.5,279.8 L1066.5,279.6 L1067.5,279.4 L1068.5,279.3 L1069.5,279.1 L1070.5,278.9 L1071.5,278.7 L1072.5,278.5 L1073.5,278.3 L1074.5,278.2 L1075.5,278.0 L1076.5,277.8 L1077.5,277.6 L1078.5,277.4 L1079.5,277.3 L1080.5,277.1 L1081.5,276.9 L1082.5,276.7 L1083.5,276.5 L1084.5,276.4 L1085.5,276.2 L1086.5,276.0 L1087.5,275.8 L1088.5,275.6 L1089.5,275.4 L1090.5,275.3 L1091.5,275.1 L1092.5,274.9 L1093.5,274.7 L1094.5,274.5 L1095.5,274.4 L1096.5,274.2 L1097.5,274.0 L1098.5,273.8 L1099.5,273.6 L1100.5,273.5 L1101.5,273.3 L1102.5,273.1 L1103.5,272.9 L1104.5,272.7 L1105.5,272.6 L1106.5,272.4 L1107.5,272.2 L1108.5,272.0 L1109.5,271.8 L1110.5,271.7 L1111.5,271.5 L1112.5,271.3 L1113.5,271.1 L1114.5,270.9 L1115.5,270.8 L1116.5,270.6 L1117.5,270.4 L1118.5,270.2 L1119.5,270.0 L1120.5,269.9 L1121.5,269.7 L1122.5,269.5 L1123.5,269.3 L1124.5,269.1 L1125.5,268.9 L1126.5,268.8 L1127.5,268.6 L1128.5,268.4 L1129.5,268.2 L1130.5,268.0 L1131.5,267.9 L1132.5,267.7 L1133.5,267.5 L1134.5,267.3 L1135.5,267.1 L1136.5,267.0 L1137.5,266.8 L1138.5,266.6 L1139.5,266.4 L1140.5,266.2 L1141.5,266.1 L1142.5,265.9 L1143.5,265.7 L1144.5,265.5 L1145.5,265.3 L1146.5,265.2 L1147.5,265.0 L1148.5,264.8 L1149.5,264.6 L1150.5,264.4 L1151.5,264.3 L1152.5,264.1 L1153.5,263.9 L1154.5,263.7 L1155.5,263.5 L1156.5,263.4 L1157.5,263.2 L1158.5,263.0 L1159.5,262.8 L1160.5,262.6 L1161.5,262.5 L1162.5,262.3 L1163.5,262.1 L1164.5,261.9 L1165.5,261.7 L1166.5,261.6 L1167.5,261.4 L1168.5,261.2 L1169.5,261.0 L1170.5,260.8 L1171.5,260.7 L1172.5,260.5 L1173.5,260.3 L1174.5,260.1 L1175.5,259.9 L1176.5,259.8 L1177.5,259.6 L1178.5,259.4 L1179.5,259.2 L1180.5,259.0 L1181.5,258.9 L1182.5,258.7 L1183.5,258.5 L1184.5,258.3 L1185.5,258.1 L1186.5,258.0 L1187.5,257.8 L1188.5,257.6 L1189.5,257.4 L1190.5,257.2 L1191.5,257.1 L1192.5,256.9 L1193.5,256.7 L1194.5,256.5 L1195.5,256.3 L1196.5,256.2 L1197.5,256.0 L1198.5,255.8 L1199.5,255.6 L1200.5,255.4 L1201.5,255.3 L1202.5,255.1 L1203.5,254.9 L1204.5,254.7 L1205.5,254.5 L1206.5,254.4 L1207.5,254.2 L1208.5,254.0 L1209.5,253.8 L1210.5,253.6 L1211.5,253.5 L1212.5,253.3 L1213.5,253.1 L1214.5,252.9 L1215.5,252.7 L1216.5,252.6 L1217.5,252.4 L1218.5,252.2 L1219.5,252.0 L1220.5,251.8 L1221.5,251.6 L1222.5,251.5 L1223.5,251.3 L1224.5,251.1 L1225.5,250.9 L1226.5,250.7 L1227.5,250.6 L1228.5,250.4 L1229.5,250.2 L1230.5,250.0 L1231.5,249.8 L1232.5,249.7 L1233.5,249.5 L1234.5,249.3 L1235.5,249.1 L1236.5,248.9 L1237.5,248.8 L1238.5,248.6 L1239.5,248.4 L1240.5,248.2 L1241.5,248.0 L1242.5,247.8 L1243.5,247.7 L1244.5,247.5 L1245.5,247.3 L1246.5,247.1 L1247.5,246.9 L1248.5,246.8 L1249.5,246.6 L1250.5,246.4 L1251.5,246.2 L1252.5,246.0 L1253.5,245.9 L1254.5,245.7 L1255.5,245.5 L1256.5,245.3 L1257.5,245.1 L1258.5,244.9 L1259.5,244.8 L1260.5,244.6 L1261.5,244.4 L1262.5,244.2 L1263.5,244.0 L1264.5,243.9 L1265.5,243.7 L1266.5,243.5 L1267.5,243.3 L1268.5,243.1 L1269.5,242.9 L1270.5,242.8 L1271.5,242.6 L1272.5,242.4 L1273.5,242.2 L1274.5,242.0 L1275.5,241.8 L1276.5,241.7 L1277.5,241.5 L1278.5,241.3 L1279.5,241.1 L1280.5,240.9 L1281.5,240.7 L1282.5,240.6 L1283.5,240.4 L1284.5,240.2 L1285.5,240.0 L1286.5,239.8 L1287.5,239.7 L1288.5,239.5 L1289.5,239.3 L1290.5,239.1 L1291.5,238.9 L1292.5,238.7 L1293.3,238.6" fill="none" stroke="#fff" stroke-width="2.4" stroke-linecap="round" stroke-linejoin="round"/>
<path d="M158.6,15.0V799.6M231.1,15.0V799.6M303.7,15.0V799.6M376.2,15.0V799.6M448.7,15.0V799.6M521.2,15.0V799.6M593.8,15.0V799.6M666.3,15.0V799.6M738.8,15.0V799.6M811.3,15.0V799.6M883.9,15.0V799.6M956.4,15.0V409.0M956.4,760.0V799.6M1028.9,15.0V409.0M1028.9,760.0V799.6M1101.4,15.0V409.0M1101.4,760.0V799.6M1174.0,15.0V409.0M1174.0,760.0V799.6M1246.5,15.0V409.0M1246.5,760.0V799.6M1319.0,15.0V409.0M1319.0,760.0V799.6M158.6,15.0H1319.0M158.6,222.8H1319.0M158.6,430.7H904.0M158.6,638.5H904.0" stroke="#D6D6D6" stroke-width="2" fill="none"/>
<path d="M158.6,14.0V799.6" stroke="#BBBBBB" stroke-width="2" fill="none"/>
<path d="M159.1,799.6H1318.7" stroke="#000" stroke-width="2.2" stroke-linecap="round"/>
<path d="M376.3,14.8V51.3M369.2,51.3H383.4M571.8,14.8V51.3M564.6,51.3H578.9M594.0,14.8V51.3M586.9,51.3H601.1M629.6,14.8V51.3M622.5,51.3H636.8M641.8,14.8V51.3M634.6,51.3H648.9M735.4,14.8V77.3M728.2,77.3H742.5M195.1,159.8V305.0M187.9,159.8H202.2M187.9,305.0H202.2M594.0,160.0V222.3M586.9,222.3H601.1M663.2,160.1V222.0M659.1,222.2V285.4M652.0,285.4H666.2M713.8,222.5V284.8M706.6,284.8H720.9M728.3,243.3V304.2M721.1,304.2H735.4M739.0,159.7V304.2M731.9,159.7H746.1M731.9,304.2H746.1M753.8,249.2V311.6M746.6,311.6H760.9M822.2,160.0V430.1M815.1,160.0H829.4M815.1,430.1H829.4M612.3,313.2V376.0M605.1,376.0H619.4M648.2,97.4V428.0M641.1,97.4H655.4M641.1,428.0H655.4M655.8,273.0V421.3M648.6,273.0H662.9M648.6,421.3H662.9M568.6,367.1V529.0M561.5,367.1H575.8M561.5,529.0H575.8M484.7,585.6V606.2M477.6,585.6H491.8M477.6,606.2H491.8M582.9,601.4V627.8M575.8,627.8H590.0M594.1,591.4V627.8M587.0,627.8H601.2M575.8,591.4V633.8M568.6,591.4H582.9M568.6,633.8H582.9M303.3,14.8H449.3M303.3,7.7V22.0M449.3,7.7V22.0M692.5,242.0H764.5M692.5,234.8V249.2M764.5,234.8V249.2M593.8,313.2H630.2M593.8,306.1V320.3M630.2,306.1V320.3M532.7,480.4H604.0M532.7,473.2V487.5M604.0,473.2V487.5M503.0,670.7H594.1M503.0,663.6V677.9M594.1,663.6V677.9" stroke="#454545" stroke-width="2.1" fill="none" clip-path="url(#plot)"/>
<circle cx="608.5" cy="420.4" r="8.7" fill="#FFC000"/>
<circle cx="604.4" cy="532.3" r="8.7" fill="#4472C4"/>
<circle cx="546.5" cy="579.8" r="8.7" fill="#4472C4"/>
<circle cx="557.9" cy="591.8" r="8.7" fill="#4472C4"/>
<circle cx="484.7" cy="596.2" r="8.7" fill="#4472C4"/>
<circle cx="647.4" cy="366.8" r="8.7" fill="#A5A5A5"/>
<circle cx="376.3" cy="14.8" r="8.7" fill="#C55A11"/>
<circle cx="571.8" cy="14.8" r="8.7" fill="#C55A11"/>
<circle cx="594.0" cy="14.8" r="8.7" fill="#C55A11"/>
<circle cx="629.6" cy="14.8" r="8.7" fill="#C55A11"/>
<circle cx="641.8" cy="14.8" r="8.7" fill="#C55A11"/>
<circle cx="612.3" cy="313.2" r="8.7" fill="#C55A11"/>
<circle cx="510.8" cy="420.6" r="8.7" fill="#C55A11"/>
<circle cx="641.3" cy="425.5" r="8.7" fill="#C55A11"/>
<circle cx="513.8" cy="580.8" r="8.7" fill="#C55A11"/>
<circle cx="735.4" cy="14.8" r="8.7" fill="#548235"/>
<circle cx="195.1" cy="259.2" r="8.7" fill="#548235"/>
<circle cx="594.0" cy="160.0" r="8.7" fill="#548235"/>
<circle cx="663.2" cy="160.1" r="8.7" fill="#548235"/>
<circle cx="659.1" cy="222.2" r="8.7" fill="#548235"/>
<circle cx="713.8" cy="222.5" r="8.7" fill="#548235"/>
<circle cx="739.0" cy="259.6" r="8.7" fill="#548235"/>
<circle cx="822.2" cy="372.5" r="8.7" fill="#548235"/>
<circle cx="583.5" cy="595.5" r="8.7" fill="#548235"/>
<circle cx="583.5" cy="611.5" r="8.7" fill="#548235"/>
<circle cx="546.9" cy="670.7" r="8.7" fill="#548235"/>
<circle cx="231.2" cy="716.6" r="8.7" fill="#548235"/>
<circle cx="231.2" cy="728.2" r="8.7" fill="#548235"/>
<circle cx="231.2" cy="756.7" r="8.7" fill="#548235"/>
<circle cx="594.1" cy="716.6" r="8.7" fill="#548235"/>
<circle cx="594.1" cy="727.9" r="8.7" fill="#548235"/>
<circle cx="594.1" cy="756.1" r="8.7" fill="#548235"/>
<circle cx="557.5" cy="762.8" r="8.7" fill="#548235"/>
<circle cx="557.5" cy="789.6" r="8.7" fill="#548235"/>
<circle cx="630.1" cy="756.8" r="8.7" fill="#548235"/>
<circle cx="630.1" cy="797.9" r="8.7" fill="#548235"/>
<circle cx="753.8" cy="249.2" r="8.7" fill="#7030A0"/>
<circle cx="652.3" cy="528.9" r="8.7" fill="#7030A0"/>
<circle cx="594.1" cy="591.4" r="8.7" fill="#7030A0"/>
<circle cx="575.8" cy="615.9" r="8.7" fill="#7030A0"/>
<circle cx="594.1" cy="612.0" r="8.7" fill="#7030A0"/>
<circle cx="555.0" cy="670.7" r="8.7" fill="#7030A0"/>
<rect x="558.2" y="470.2" width="19.7" height="19.7" fill="#fff" stroke="#000" stroke-width="2.5"/>
<circle cx="655.2" cy="374" r="10.3" fill="#BFBFBF" stroke="#000" stroke-width="2.6"/>
<path d="M728.3,231.3 L740,253 L716.6,253 Z" fill="#000"/>
<path d="M456.4,540.6 L456.9,542.1 L457.4,543.5 L457.9,544.9 L458.4,546.4 L458.9,547.8 L459.4,549.2 L459.9,550.5 L460.4,551.9 L460.9,553.2 L461.4,554.6 L461.9,555.9 L462.4,557.2 L462.9,558.5 L463.4,559.8 L463.9,561.1 L464.4,562.3 L464.9,563.6 L465.4,564.8 L465.9,566.0 L466.4,567.2 L466.9,568.4 L467.4,569.6 L467.9,570.8 L468.4,572.0 L468.9,573.1 L469.4,574.2 L469.9,575.4 L470.4,576.5 L470.9,577.6 L471.4,578.6 L471.9,579.7 L472.4,580.8 L472.9,581.8 L473.4,582.8 L473.9,583.9 L474.4,584.9 L474.9,585.9 L475.4,586.9 L475.9,587.8 L476.4,588.8 L476.9,589.7 L477.4,590.7 L477.9,591.6 L478.4,592.5 L478.9,593.4 L479.4,594.3 L479.9,595.1 L480.4,596.0 L480.9,596.8 L481.4,597.7 L481.9,598.5 L482.4,599.3 L482.9,600.1 L483.4,600.9 L483.9,601.6 L484.4,602.4 L484.9,603.1 L485.4,603.9 L485.9,604.6 L486.4,605.3 L486.9,606.0 L487.4,606.7 L487.9,607.4 L488.4,608.0 L488.9,608.7 L489.4,609.3 L489.9,609.9 L490.4,610.5 L490.9,611.1 L491.4,611.7 L491.9,612.3 L492.4,612.8 L492.9,613.4 L493.4,613.9 L493.9,614.4 L494.4,615.0 L494.9,615.5 L495.4,615.9 L495.9,616.4 L496.4,616.9 L496.9,617.3 L497.4,617.8 L497.9,618.2 L498.4,618.6 L498.9,619.0 L499.4,619.4 L499.9,619.8 L500.4,620.2 L500.9,620.5 L501.4,620.8 L501.9,621.2 L502.4,621.5 L502.9,621.8 L503.4,622.1 L503.9,622.4 L504.4,622.6 L504.9,622.9 L505.4,623.1 L505.9,623.4 L506.4,623.6 L506.9,623.8 L507.4,624.0 L507.9,624.2 L508.4,624.3 L508.9,624.5 L509.4,624.7 L509.9,624.8 L510.4,624.9 L510.9,625.0 L511.4,625.1 L511.9,625.2 L512.4,625.3 L512.9,625.3 L513.4,625.4 L513.9,625.4 L514.4,625.5 L514.9,625.5 L515.4,625.5 L515.9,625.5 L516.4,625.4 L516.9,625.4 L517.4,625.4 L517.9,625.3 L518.4,625.2 L518.9,625.2 L519.4,625.1 L519.9,625.0 L520.4,624.8 L520.9,624.7 L521.4,624.6 L521.9,624.4 L522.4,624.2 L522.9,624.1 L523.4,623.9 L523.9,623.7 L524.4,623.5 L524.9,623.2 L525.4,623.0 L525.9,622.7 L526.4,622.5 L526.9,622.2 L527.4,621.9 L527.9,621.6 L528.4,621.3 L528.9,621.0 L529.4,620.7 L529.9,620.3 L530.4,619.9 L530.9,619.6 L531.4,619.2 L531.9,618.8 L532.4,618.4 L532.9,618.0 L533.4,617.5 L533.9,617.1 L534.4,616.6 L534.9,616.2 L535.4,615.7 L535.9,615.2 L536.4,614.7 L536.9,614.2 L537.4,613.7 L537.9,613.1 L538.4,612.6 L538.9,612.0 L539.4,611.5 L539.9,610.9 L540.4,610.3 L540.9,609.7 L541.4,609.0 L541.9,608.4 L542.4,607.8 L542.9,607.1 L543.4,606.4 L543.9,605.8 L544.4,605.1 L544.9,604.4 L545.4,603.7 L545.9,602.9 L546.4,602.2 L546.9,601.4 L547.4,600.7 L547.9,599.9 L548.4,599.1 L548.9,598.3 L549.4,597.5 L549.9,596.7 L550.4,595.8 L550.9,595.0 L551.4,594.1 L551.9,593.3 L552.4,592.4 L552.9,591.5 L553.4,590.6 L553.9,589.7 L554.4,588.7 L554.9,587.8 L555.4,586.9 L555.9,585.9 L556.4,584.9 L556.9,583.9 L557.4,582.9 L557.9,581.9 L558.4,580.9 L558.9,579.9 L559.4,578.8 L559.9,577.8 L560.4,576.7 L560.9,575.6 L561.4,574.5 L561.9,573.4 L562.4,572.3 L562.9,571.2 L563.4,570.1 L563.9,568.9 L564.4,567.8 L564.9,566.6 L565.4,565.4 L565.9,564.3 L566.4,563.1 L566.9,561.9 L567.4,560.6 L567.9,559.4 L568.4,558.2 L568.9,556.9 L569.4,555.7 L569.9,554.4 L570.4,553.2 L570.9,551.9 L571.4,550.6 L571.9,549.3 L572.4,548.0 L572.9,546.7 L573.4,545.3 L573.9,544.0 L574.4,542.7 L574.9,541.3 L575.4,540.0 L575.9,538.6 L576.4,537.2 L576.9,535.8 L577.4,534.4 L577.9,533.0 L578.4,531.6 L578.9,530.2 L579.4,528.8 L579.9,527.3 L580.4,525.9 L580.9,524.4 L581.4,523.0 L581.9,521.5 L582.4,520.0 L582.9,518.6 L583.4,517.1 L583.9,515.6 L584.4,514.1 L584.9,512.6 L585.4,511.1 L585.9,509.5 L586.4,508.0 L586.9,506.5 L587.4,504.9 L587.9,503.4 L588.4,501.8 L588.9,500.3 L589.4,498.7 L589.9,497.1 L590.4,495.5 L590.9,494.0 L591.4,492.4 L591.9,490.8 L592.4,489.2 L592.9,487.6 L593.4,485.9 L593.9,484.3 L594.4,482.7 L594.9,481.1 L595.4,479.4 L595.9,477.8 L596.4,476.2 L596.9,474.5 L597.4,472.9 L597.9,471.2 L598.4,469.6 L598.9,467.9 L599.4,466.2 L599.9,464.5 L600.4,462.9 L600.9,461.2 L601.4,459.5 L601.9,457.8 L602.4,456.1 L602.9,454.4 L603.4,452.7 L603.9,451.0 L604.4,449.3 L604.9,447.6 L605.4,445.9 L605.9,444.2 L606.4,442.5 L606.9,440.8 L607.4,439.0 L607.9,437.3 L608.4,435.6 L608.9,433.9 L609.4,432.1 L609.9,430.4 L610.4,428.7 L610.9,426.9 L611.4,425.2 L611.9,423.4 L612.4,421.7 L612.9,420.0 L613.4,418.2 L613.9,416.5 L614.4,414.7 L614.9,413.0 L615.4,411.2 L615.9,409.5 L616.4,407.7 L616.9,406.0 L617.4,404.2 L617.9,402.5 L618.4,400.7 L618.9,399.0 L619.4,397.2 L619.9,395.4 L620.4,393.7 L620.9,391.9 L621.4,390.2 L621.9,388.4 L622.4,386.7 L622.9,384.9 L623.4,383.2 L623.9,381.4 L624.4,379.7 L624.9,377.9 L625.4,376.2 L625.9,374.4 L626.4,372.7 L626.9,370.9 L627.4,369.2 L627.9,367.5 L628.4,365.7 L628.9,364.0 L629.4,362.3 L629.9,360.5 L630.4,358.8 L630.9,357.1 L631.4,355.3 L631.9,353.6 L632.4,351.9 L632.9,350.2 L633.4,348.4 L633.9,346.7 L634.4,345.0 L634.9,343.3 L635.4,341.6 L635.9,339.9 L636.4,338.2 L636.9,336.5 L637.4,334.8 L637.9,333.1 L638.4,331.4 L638.9,329.7 L639.4,328.1 L639.9,326.4 L640.4,324.7 L640.9,323.0 L641.4,321.4 L641.9,319.7 L642.4,318.0 L642.9,316.4 L643.4,314.7 L643.9,313.1 L644.4,311.4 L644.9,309.8 L645.4,308.1 L645.9,306.5 L646.4,304.9 L646.9,303.2 L647.4,301.6 L647.9,300.0 L648.4,298.4 L648.9,296.7 L649.4,295.1 L649.9,293.5 L650.4,291.9 L650.9,290.3 L651.4,288.7 L651.9,287.1 L652.4,285.6 L652.9,284.0 L653.4,282.4 L653.9,280.8 L654.4,279.3 L654.9,277.7 L655.4,276.1 L655.9,274.6 L656.4,273.0 L656.9,271.5 L657.4,269.9 L657.9,268.4 L658.4,266.9 L658.9,265.3 L659.4,263.8 L659.9,262.3 L660.4,260.8 L660.9,259.3 L661.4,257.8 L661.9,256.3 L662.4,254.8 L662.9,253.3 L663.4,251.8 L663.9,250.3 L664.4,248.9 L664.9,247.4 L665.4,245.9 L665.9,244.5 L666.4,243.0 L666.9,241.6 L667.4,240.1 L667.9,238.7 L668.4,237.3 L668.9,235.9 L669.4,234.4 L669.9,233.0 L670.4,231.6 L670.9,230.2 L671.4,228.8 L671.9,227.4 L672.4,226.1 L672.9,224.7 L673.4,223.3 L673.9,221.9 L674.4,220.6 L674.9,219.2 L675.4,217.9 L675.9,216.5 L676.4,215.2 L676.9,213.9 L677.4,212.6 L677.9,211.2 L678.4,209.9 L678.9,208.6 L679.4,207.3 L679.9,206.1 L680.4,204.8 L680.9,203.5 L681.4,202.2 L681.9,201.0 L682.4,199.7 L682.9,198.4 L683.4,197.2 L683.9,196.0 L684.4,194.7 L684.9,193.5 L685.4,192.3 L685.9,191.1 L686.4,189.9 L686.9,188.7 L687.4,187.5 L687.9,186.3 L688.4,185.1 L688.9,183.9 L689.4,182.8 L689.9,181.6 L690.4,180.5 L690.9,179.3 L691.4,178.2 L691.9,177.0 L692.4,175.9 L692.9,174.8 L693.4,173.7 L693.9,172.5 L694.4,171.4 L694.9,170.3 L695.4,169.2 L695.9,168.2 L696.4,167.1 L696.9,166.0 L697.4,164.9 L697.9,163.9 L698.4,162.8 L698.9,161.8 L699.4,160.7 L699.9,159.7 L700.4,158.6 L700.9,157.6 L701.4,156.6 L701.9,155.6 L702.4,154.6 L702.9,153.6 L703.4,152.6 L703.9,151.6 L704.4,150.6 L704.9,149.6 L705.4,148.6 L705.9,147.7 L706.4,146.7 L706.9,145.7 L707.4,144.8 L707.9,143.8 L708.4,142.9 L708.9,142.0 L709.4,141.0 L709.9,140.1 L710.4,139.2 L710.9,138.3 L711.4,137.4 L711.9,136.5 L712.4,135.6 L712.9,134.7 L713.4,133.8 L713.9,132.9 L714.4,132.0 L714.9,131.2 L715.4,130.3 L715.9,129.5 L716.4,128.6 L716.9,127.8 L717.4,126.9 L717.9,126.1 L718.4,125.2 L718.9,124.4 L719.4,123.6 L719.9,122.8 L720.4,122.0 L720.9,121.2 L721.4,120.4 L721.9,119.6 L722.4,118.8 L722.9,118.0 L723.4,117.2 L723.9,116.4 L724.4,115.7 L724.9,114.9 L725.4,114.2 L725.9,113.4 L726.4,112.7 L726.9,111.9 L727.4,111.2 L727.9,110.4 L728.4,109.7 L728.9,109.0 L729.4,108.3 L729.9,107.6 L730.4,106.9 L730.9,106.1 L731.4,105.4 L731.9,104.8 L732.4,104.1 L732.9,103.4 L733.4,102.7 L733.9,102.0 L734.4,101.4 L734.9,100.7 L735.4,100.0 L735.9,99.4 L736.4,98.7 L736.9,98.1 L737.4,97.4 L737.9,96.8 L738.4,96.2 L738.9,95.6 L739.4,94.9 L739.9,94.3 L740.4,93.7 L740.9,93.1 L741.4,92.5 L741.9,91.9 L742.4,91.3 L742.9,90.7 L743.4,90.1 L743.9,89.5 L744.4,89.0 L744.9,88.4 L745.4,87.8 L745.9,87.3 L746.4,86.7 L746.9,86.1 L747.4,85.6 L747.9,85.1 L748.4,84.5 L748.9,84.0 L749.4,83.4 L749.9,82.9 L750.4,82.4 L750.9,81.9 L751.4,81.4 L751.9,80.8 L752.4,80.3 L752.9,79.8 L753.4,79.3 L753.9,78.8 L754.4,78.4 L754.9,77.9 L755.4,77.4 L755.9,76.9 L756.4,76.4 L756.9,76.0 L757.4,75.5 L757.9,75.0 L758.4,74.6 L758.9,74.1 L759.4,73.7 L759.9,73.2 L760.4,72.8 L760.9,72.4 L761.4,71.9 L761.9,71.5 L762.4,71.1 L762.9,70.6 L763.4,70.2 L763.9,69.8 L764.4,69.4 L764.9,69.0 L765.4,68.6 L765.9,68.2 L766.4,67.8 L766.9,67.4 L767.4,67.0 L767.9,66.6 L768.4,66.2 L768.9,65.9 L769.4,65.5 L769.9,65.1 L770.4,64.8 L770.9,64.4 L771.4,64.0 L771.9,63.7 L772.4,63.3 L772.9,63.0 L773.4,62.6 L773.9,62.3 L774.4,62.0 L774.9,61.6 L775.4,61.3 L775.9,61.0 L776.4,60.7 L776.9,60.3 L777.4,60.0 L777.9,59.7 L778.4,59.4 L778.9,59.1 L779.4,58.8 L779.9,58.5 L780.4,58.2 L780.9,57.9 L781.4,57.6 L781.9,57.3 L782.4,57.0 L782.9,56.8 L783.4,56.5 L783.9,56.2 L784.4,55.9 L784.9,55.7 L785.4,55.4 L785.9,55.1 L786.4,54.9 L786.9,54.6 L787.4,54.4 L787.9,54.1 L788.4,53.9 L788.9,53.6 L789.4,53.4 L789.9,53.2 L790.4,52.9 L790.9,52.7 L791.4,52.5 L791.9,52.2 L792.4,52.0 L792.9,51.8 L793.4,51.6 L793.9,51.4 L794.4,51.2 L794.9,51.0 L795.4,50.8 L795.9,50.6 L796.4,50.4 L796.9,50.2 L797.4,50.0 L797.9,49.8 L798.4,49.6 L798.9,49.4 L799.4,49.2 L799.9,49.0 L800.4,48.9 L800.9,48.7 L801.4,48.5 L801.9,48.3 L802.4,48.2 L802.9,48.0 L803.4,47.8 L803.9,47.7 L804.4,47.5 L804.9,47.4 L805.4,47.2 L805.9,47.1 L806.4,46.9 L806.9,46.8 L807.4,46.6 L807.9,46.5 L808.4,46.4 L808.9,46.2 L809.4,46.1 L809.9,46.0 L810.4,45.8 L810.9,45.7 L811.4,45.6 L811.9,45.5 L812.4,45.4 L812.9,45.2 L813.4,45.1 L813.9,45.0 L814.4,44.9 L814.9,44.8 L815.4,44.7 L815.9,44.6 L816.4,44.5" fill="none" stroke="#000" stroke-width="3"/>
<path d="M455.5,284.5 L456.0,286.3 L456.5,288.2 L457.0,290.2 L457.5,292.2 L458.0,294.3 L458.5,296.4 L459.0,298.7 L459.5,300.9 L460.0,303.3 L460.5,305.7 L461.0,308.1 L461.5,310.6 L462.0,313.1 L462.5,315.7 L463.0,318.3 L463.5,321.0 L464.0,323.7 L464.5,326.4 L465.0,329.2 L465.5,331.9 L466.0,334.7 L466.5,337.6 L467.0,340.4 L467.5,343.3 L468.0,346.1 L468.5,349.0 L469.0,351.9 L469.5,354.8 L470.0,357.7 L470.5,360.6 L471.0,363.5 L471.5,366.4 L472.0,369.2 L472.5,372.1 L473.0,374.9 L473.5,377.8 L474.0,380.6 L474.5,383.4 L475.0,386.1 L475.5,388.9 L476.0,391.6 L476.5,394.2 L477.0,396.9 L477.5,399.5 L478.0,402.0 L478.5,404.5 L479.0,407.0 L479.5,409.4 L480.0,411.8 L480.5,414.1 L481.0,416.3 L481.5,418.5 L482.0,420.7 L482.5,422.8 L483.0,424.9 L483.5,427.0 L484.0,429.0 L484.5,430.9 L485.0,432.9 L485.5,434.8 L486.0,436.7 L486.5,438.5 L487.0,440.3 L487.5,442.2 L488.0,443.9 L488.5,445.7 L489.0,447.5 L489.5,449.2 L490.0,450.9 L490.5,452.7 L491.0,454.4 L491.5,456.1 L492.0,457.8 L492.5,459.5 L493.0,461.2 L493.5,462.9 L494.0,464.6 L494.5,466.3 L495.0,467.9 L495.5,469.6 L496.0,471.3 L496.5,472.9 L497.0,474.6 L497.5,476.2 L498.0,477.8 L498.5,479.4 L499.0,480.9 L499.5,482.5 L500.0,484.0 L500.5,485.5 L501.0,487.0 L501.5,488.4 L502.0,489.9 L502.5,491.3 L503.0,492.6 L503.5,494.0 L504.0,495.3 L504.5,496.6 L505.0,497.8 L505.5,499.0 L506.0,500.2 L506.5,501.3 L507.0,502.4 L507.5,503.5 L508.0,504.5 L508.5,505.5 L509.0,506.4 L509.5,507.3 L510.0,508.2 L510.5,509.0 L511.0,509.8 L511.5,510.6 L512.0,511.3 L512.5,512.0 L513.0,512.7 L513.5,513.4 L514.0,514.0 L514.5,514.6 L515.0,515.2 L515.5,515.7 L516.0,516.2 L516.5,516.7 L517.0,517.2 L517.5,517.7 L518.0,518.1 L518.5,518.5 L519.0,518.9 L519.5,519.2 L520.0,519.6 L520.5,519.9 L521.0,520.2 L521.5,520.5 L522.0,520.8 L522.5,521.0 L523.0,521.3 L523.5,521.5 L524.0,521.7 L524.5,521.9 L525.0,522.0 L525.5,522.2 L526.0,522.3 L526.5,522.4 L527.0,522.5 L527.5,522.6 L528.0,522.7 L528.5,522.7 L529.0,522.7 L529.5,522.7 L530.0,522.7 L530.5,522.7 L531.0,522.6 L531.5,522.6 L532.0,522.5 L532.5,522.4 L533.0,522.3 L533.5,522.2 L534.0,522.0 L534.5,521.8 L535.0,521.6 L535.5,521.4 L536.0,521.2 L536.5,521.0 L537.0,520.7 L537.5,520.5 L538.0,520.2 L538.5,519.9 L539.0,519.5 L539.5,519.2 L540.0,518.8 L540.5,518.4 L541.0,518.0 L541.5,517.6 L542.0,517.2 L542.5,516.8 L543.0,516.3 L543.5,515.8 L544.0,515.3 L544.5,514.8 L545.0,514.3 L545.5,513.7 L546.0,513.1 L546.5,512.6 L547.0,512.0 L547.5,511.3 L548.0,510.7 L548.5,510.0 L549.0,509.4 L549.5,508.7 L550.0,508.0 L550.5,507.3 L551.0,506.5 L551.5,505.8 L552.0,505.0 L552.5,504.2 L553.0,503.4 L553.5,502.6 L554.0,501.7 L554.5,500.9 L555.0,500.0 L555.5,499.1 L556.0,498.2 L556.5,497.3 L557.0,496.3 L557.5,495.3 L558.0,494.4 L558.5,493.4 L559.0,492.4 L559.5,491.3 L560.0,490.3 L560.5,489.2 L561.0,488.2 L561.5,487.1 L562.0,486.0 L562.5,484.8 L563.0,483.7 L563.5,482.6 L564.0,481.4 L564.5,480.2 L565.0,479.1 L565.5,477.9 L566.0,476.7 L566.5,475.5 L567.0,474.3 L567.5,473.1 L568.0,471.9 L568.5,470.7 L569.0,469.5 L569.5,468.3 L570.0,467.0 L570.5,465.8 L571.0,464.6 L571.5,463.4 L572.0,462.2 L572.5,461.0 L573.0,459.7 L573.5,458.5 L574.0,457.3 L574.5,456.0 L575.0,454.8 L575.5,453.5 L576.0,452.3 L576.5,451.0 L577.0,449.8 L577.5,448.5 L578.0,447.2 L578.5,445.9 L579.0,444.6 L579.5,443.3 L580.0,442.0 L580.5,440.6 L581.0,439.3 L581.5,437.9 L582.0,436.5 L582.5,435.2 L583.0,433.7 L583.5,432.3 L584.0,430.9 L584.5,429.4 L585.0,428.0 L585.5,426.5 L586.0,425.0 L586.5,423.5 L587.0,421.9 L587.5,420.4 L588.0,418.8 L588.5,417.2 L589.0,415.6 L589.5,414.0 L590.0,412.4 L590.5,410.8 L591.0,409.1 L591.5,407.4 L592.0,405.8 L592.5,404.1 L593.0,402.4 L593.5,400.6 L594.0,398.9 L594.5,397.1 L595.0,395.4 L595.5,393.6 L596.0,391.8 L596.5,390.0 L597.0,388.2 L597.5,386.4 L598.0,384.6 L598.5,382.7 L599.0,380.9 L599.5,379.0 L600.0,377.2 L600.5,375.3 L601.0,373.4 L601.5,371.5 L602.0,369.6 L602.5,367.7 L603.0,365.8 L603.5,363.8 L604.0,361.9 L604.5,359.9 L605.0,358.0 L605.5,356.0 L606.0,354.1 L606.5,352.1 L607.0,350.1 L607.5,348.1 L608.0,346.1 L608.5,344.1 L609.0,342.1 L609.5,340.1 L610.0,338.1 L610.5,336.0 L611.0,334.0 L611.5,332.0 L612.0,329.9 L612.5,327.9 L613.0,325.9 L613.5,323.8 L614.0,321.8 L614.5,319.7 L615.0,317.6 L615.5,315.6 L616.0,313.5 L616.5,311.4 L617.0,309.3 L617.5,307.2 L618.0,305.1 L618.5,303.0 L619.0,300.9 L619.5,298.8 L620.0,296.7 L620.5,294.6 L621.0,292.5 L621.5,290.3 L622.0,288.2 L622.5,286.0 L623.0,283.9 L623.5,281.7 L624.0,279.6 L624.5,277.4 L625.0,275.2 L625.5,273.0 L626.0,270.9 L626.5,268.7 L627.0,266.5 L627.5,264.3 L628.0,262.1 L628.5,259.9 L629.0,257.7 L629.5,255.6 L630.0,253.4 L630.5,251.2 L631.0,249.0 L631.5,246.8 L632.0,244.6 L632.5,242.4 L633.0,240.2 L633.5,238.1 L634.0,235.9 L634.5,233.7 L635.0,231.6 L635.5,229.4 L636.0,227.2 L636.5,225.1 L637.0,222.9 L637.5,220.8 L638.0,218.7 L638.5,216.5 L639.0,214.4 L639.5,212.3 L640.0,210.2 L640.5,208.1 L641.0,206.0 L641.5,204.0 L642.0,201.9 L642.5,199.9 L643.0,197.8 L643.5,195.8 L644.0,193.8 L644.5,191.7 L645.0,189.7 L645.5,187.7 L646.0,185.8 L646.5,183.8 L647.0,181.8 L647.5,179.9 L648.0,177.9 L648.5,176.0 L649.0,174.1 L649.5,172.2 L650.0,170.3 L650.5,168.4 L651.0,166.5 L651.5,164.6 L652.0,162.8 L652.5,160.9 L653.0,159.1 L653.5,157.3 L654.0,155.5 L654.5,153.7 L655.0,151.9 L655.5,150.1 L656.0,148.3 L656.5,146.6 L657.0,144.8 L657.5,143.1 L658.0,141.4 L658.5,139.6 L659.0,137.9 L659.5,136.2 L660.0,134.6 L660.5,132.9 L661.0,131.2 L661.5,129.6 L662.0,128.0 L662.5,126.3 L663.0,124.7 L663.5,123.1 L664.0,121.5 L664.5,120.0 L665.0,118.4 L665.5,116.8 L666.0,115.3 L666.5,113.8 L667.0,112.3 L667.5,110.8 L668.0,109.3 L668.5,107.8 L669.0,106.3 L669.5,104.9 L670.0,103.4 L670.5,102.0 L671.0,100.6 L671.5,99.2 L672.0,97.8 L672.5,96.4 L673.0,95.0 L673.5,93.6 L674.0,92.3 L674.5,91.0 L675.0,89.6 L675.5,88.3 L676.0,87.0 L676.5,85.8 L677.0,84.5 L677.5,83.2 L678.0,82.0 L678.5,80.7 L679.0,79.5 L679.5,78.3 L680.0,77.1 L680.5,75.9 L681.0,74.7 L681.5,73.6 L682.0,72.4 L682.5,71.3 L683.0,70.1 L683.5,69.0 L684.0,67.9 L684.5,66.8 L685.0,65.7 L685.5,64.6 L686.0,63.5 L686.5,62.5 L687.0,61.4 L687.5,60.4 L688.0,59.3 L688.5,58.3 L689.0,57.3 L689.5,56.3 L690.0,55.3 L690.5,54.3 L691.0,53.3 L691.5,52.3 L692.0,51.4 L692.5,50.4 L693.0,49.4 L693.5,48.5 L694.0,47.6 L694.5,46.6 L695.0,45.7 L695.5,44.8 L696.0,43.9 L696.5,43.0 L697.0,42.1 L697.5,41.3 L698.0,40.4 L698.5,39.5 L699.0,38.7 L699.5,37.8 L700.0,37.0 L700.5,36.1 L701.0,35.3 L701.3,34.8" fill="none" stroke="#000" stroke-width="3.2" stroke-linecap="round" stroke-dasharray="7.9 12.94" stroke-dashoffset="-1.5"/>
<path d="M472.5,787.3 L473.0,786.7 L473.5,786.1 L474.0,785.5 L474.5,784.9 L475.0,784.3 L475.5,783.7 L476.0,783.1 L476.5,782.5 L477.0,782.0 L477.5,781.4 L478.0,780.8 L478.5,780.2 L479.0,779.7 L479.5,779.1 L480.0,778.5 L480.5,777.9 L481.0,777.4 L481.5,776.8 L482.0,776.2 L482.5,775.7 L483.0,775.1 L483.5,774.5 L484.0,774.0 L484.5,773.4 L485.0,772.8 L485.5,772.3 L486.0,771.7 L486.5,771.2 L487.0,770.6 L487.5,770.0 L488.0,769.5 L488.5,768.9 L489.0,768.3 L489.5,767.8 L490.0,767.2 L490.5,766.7 L491.0,766.1 L491.5,765.5 L492.0,765.0 L492.5,764.4 L493.0,763.8 L493.5,763.3 L494.0,762.7 L494.5,762.1 L495.0,761.6 L495.5,761.0 L496.0,760.4 L496.5,759.8 L497.0,759.3 L497.5,758.7 L498.0,758.1 L498.5,757.5 L499.0,757.0 L499.5,756.4 L500.0,755.8 L500.5,755.2 L501.0,754.6 L501.5,754.0 L502.0,753.4 L502.5,752.8 L503.0,752.2 L503.5,751.6 L504.0,751.0 L504.5,750.4 L505.0,749.8 L505.5,749.2 L506.0,748.6 L506.5,748.0 L507.0,747.4 L507.5,746.8 L508.0,746.1 L508.5,745.5 L509.0,744.9 L509.5,744.2 L510.0,743.6 L510.5,743.0 L511.0,742.3 L511.5,741.7 L512.0,741.0 L512.5,740.4 L513.0,739.7 L513.5,739.0 L514.0,738.4 L514.5,737.7 L515.0,737.0 L515.5,736.3 L516.0,735.7 L516.5,735.0 L517.0,734.3 L517.5,733.6 L518.0,732.9 L518.5,732.2 L519.0,731.5 L519.5,730.8 L520.0,730.0 L520.5,729.3 L521.0,728.6 L521.5,727.8 L522.0,727.1 L522.5,726.4 L523.0,725.6 L523.5,724.8 L524.0,724.1 L524.5,723.3 L525.0,722.5 L525.5,721.8 L526.0,721.0 L526.5,720.2 L527.0,719.4 L527.5,718.6 L528.0,717.8 L528.5,717.0 L529.0,716.1 L529.5,715.3 L530.0,714.5 L530.5,713.6 L531.0,712.8 L531.5,711.9 L532.0,711.1 L532.5,710.2 L533.0,709.3 L533.5,708.4 L534.0,707.5 L534.5,706.6 L535.0,705.7 L535.5,704.8 L536.0,703.9 L536.5,703.0 L537.0,702.1 L537.5,701.1 L538.0,700.2 L538.5,699.2 L539.0,698.2 L539.5,697.3 L540.0,696.3 L540.5,695.3 L541.0,694.3 L541.5,693.3 L542.0,692.3 L542.5,691.3 L543.0,690.2 L543.5,689.2 L544.0,688.1 L544.5,687.1 L545.0,686.0 L545.5,684.9 L546.0,683.9 L546.5,682.8 L547.0,681.7 L547.5,680.5 L548.0,679.4 L548.5,678.3 L549.0,677.2 L549.5,676.0 L550.0,674.9 L550.5,673.7 L551.0,672.5 L551.5,671.3 L552.0,670.1 L552.5,668.9 L553.0,667.7 L553.5,666.5 L554.0,665.3 L554.5,664.0 L555.0,662.8 L555.5,661.5 L556.0,660.3 L556.5,659.0 L557.0,657.7 L557.5,656.5 L558.0,655.2 L558.5,653.9 L559.0,652.6 L559.5,651.3 L560.0,649.9 L560.5,648.6 L561.0,647.3 L561.5,646.0 L562.0,644.6 L562.5,643.3 L563.0,641.9 L563.5,640.6 L564.0,639.2 L564.5,637.9 L565.0,636.5 L565.5,635.1 L566.0,633.7 L566.5,632.4 L567.0,631.0 L567.5,629.6 L568.0,628.2 L568.5,626.8 L569.0,625.4 L569.5,624.0 L570.0,622.6 L570.5,621.1 L571.0,619.7 L571.5,618.3 L572.0,616.9 L572.5,615.5 L573.0,614.0 L573.5,612.6 L574.0,611.2 L574.5,609.7 L575.0,608.3 L575.5,606.9 L576.0,605.4 L576.5,604.0 L577.0,602.6 L577.5,601.1 L578.0,599.7 L578.5,598.2 L579.0,596.8 L579.5,595.3 L580.0,593.9 L580.5,592.5 L581.0,591.0 L581.5,589.6 L582.0,588.1 L582.5,586.7 L583.0,585.2 L583.5,583.8 L584.0,582.4 L584.5,580.9 L585.0,579.5 L585.5,578.1 L586.0,576.6 L586.5,575.2 L587.0,573.8 L587.5,572.3 L588.0,570.9 L588.5,569.5 L589.0,568.1 L589.5,566.6 L590.0,565.2 L590.5,563.8 L591.0,562.4 L591.5,561.0 L592.0,559.6 L592.5,558.2 L593.0,556.8 L593.5,555.4 L594.0,554.0 L594.5,552.6 L595.0,551.2 L595.5,549.8 L596.0,548.4 L596.5,547.0 L597.0,545.7 L597.5,544.3 L598.0,542.9 L598.5,541.5 L599.0,540.2 L599.5,538.8 L600.0,537.4 L600.5,536.1 L601.0,534.7 L601.5,533.4 L602.0,532.0 L602.5,530.6 L603.0,529.3 L603.5,527.9 L604.0,526.6 L604.5,525.2 L605.0,523.9 L605.5,522.6 L606.0,521.2 L606.5,519.9 L607.0,518.5 L607.5,517.2 L608.0,515.9 L608.5,514.5 L609.0,513.2 L609.5,511.9 L610.0,510.6 L610.5,509.2 L611.0,507.9 L611.5,506.6 L612.0,505.3 L612.5,504.0 L613.0,502.7 L613.5,501.3 L614.0,500.0 L614.5,498.7 L615.0,497.4 L615.5,496.1 L616.0,494.8 L616.5,493.5 L617.0,492.2 L617.5,490.9 L618.0,489.6 L618.5,488.3 L619.0,487.0 L619.5,485.7 L620.0,484.4 L620.5,483.1 L621.0,481.8 L621.5,480.6 L622.0,479.3 L622.5,478.0 L623.0,476.7 L623.5,475.4 L624.0,474.1 L624.5,472.9 L625.0,471.6 L625.5,470.3 L626.0,469.0 L626.5,467.7 L627.0,466.5 L627.5,465.2 L628.0,463.9 L628.5,462.6 L629.0,461.4 L629.5,460.1 L630.0,458.8 L630.5,457.6 L631.0,456.3 L631.5,455.0 L632.0,453.8 L632.5,452.5 L633.0,451.2 L633.5,450.0 L634.0,448.7 L634.5,447.5 L635.0,446.2 L635.5,444.9 L636.0,443.7 L636.5,442.4 L637.0,441.2 L637.5,439.9 L638.0,438.7 L638.5,437.4 L639.0,436.1 L639.5,434.9 L640.0,433.6 L640.5,432.4 L641.0,431.1 L641.5,429.9 L642.0,428.6 L642.5,427.4 L643.0,426.1 L643.5,424.9 L644.0,423.6 L644.5,422.4 L645.0,421.1 L645.5,419.9 L646.0,418.6 L646.5,417.4 L647.0,416.1 L647.5,414.9 L648.0,413.6 L648.5,412.4 L649.0,411.1 L649.5,409.9 L650.0,408.6 L650.5,407.4 L651.0,406.1 L651.5,404.9 L652.0,403.6 L652.5,402.4 L653.0,401.1 L653.5,399.9 L654.0,398.7 L654.5,397.4 L655.0,396.2 L655.5,394.9 L656.0,393.7 L656.5,392.4 L657.0,391.2 L657.5,389.9 L658.0,388.7 L658.5,387.4 L659.0,386.2 L659.5,384.9 L660.0,383.7 L660.5,382.4 L661.0,381.2 L661.5,379.9 L662.0,378.7 L662.5,377.4 L663.0,376.1 L663.5,374.9 L664.0,373.6 L664.5,372.4 L665.0,371.1 L665.5,369.9 L666.0,368.6 L666.5,367.4 L667.0,366.1 L667.5,364.8 L668.0,363.6 L668.5,362.3 L669.0,361.1 L669.5,359.8 L670.0,358.6 L670.5,357.3 L671.0,356.0 L671.5,354.8 L672.0,353.5 L672.5,352.3 L673.0,351.0 L673.5,349.7 L674.0,348.5 L674.5,347.2 L675.0,346.0 L675.5,344.7 L676.0,343.4 L676.5,342.2 L677.0,340.9 L677.5,339.7 L678.0,338.4 L678.5,337.1 L679.0,335.9 L679.5,334.6 L680.0,333.4 L680.5,332.1 L681.0,330.8 L681.5,329.6 L682.0,328.3 L682.5,327.1 L683.0,325.8 L683.5,324.5 L684.0,323.3 L684.5,322.0 L685.0,320.8 L685.5,319.5 L686.0,318.3 L686.5,317.0 L687.0,315.7 L687.5,314.5 L688.0,313.2 L688.5,312.0 L689.0,310.7 L689.5,309.5 L690.0,308.2 L690.5,307.0 L691.0,305.7 L691.5,304.5 L692.0,303.2 L692.5,302.0 L693.0,300.7 L693.5,299.5 L694.0,298.3 L694.5,297.0 L695.0,295.8 L695.5,294.5 L696.0,293.3 L696.5,292.0 L697.0,290.8 L697.5,289.6 L698.0,288.3 L698.5,287.1 L699.0,285.9 L699.5,284.6 L700.0,283.4 L700.5,282.2 L701.0,280.9 L701.5,279.7 L702.0,278.5 L702.5,277.2 L703.0,276.0 L703.5,274.8 L704.0,273.6 L704.5,272.3 L705.0,271.1 L705.5,269.9 L706.0,268.7 L706.5,267.5 L707.0,266.3 L707.5,265.0 L708.0,263.8 L708.5,262.6 L709.0,261.4 L709.5,260.2 L710.0,259.0 L710.5,257.8 L711.0,256.6 L711.5,255.4 L712.0,254.2 L712.5,253.0 L713.0,251.8 L713.5,250.6 L714.0,249.4 L714.5,248.2 L715.0,247.0 L715.5,245.9 L716.0,244.7 L716.5,243.5 L717.0,242.3 L717.5,241.1 L718.0,240.0 L718.5,238.8 L719.0,237.6 L719.5,236.4 L720.0,235.3 L720.5,234.1 L721.0,232.9 L721.5,231.8 L722.0,230.6 L722.5,229.5 L723.0,228.3 L723.5,227.1 L724.0,226.0 L724.5,224.8 L725.0,223.7 L725.5,222.6 L726.0,221.4 L726.5,220.3 L727.0,219.1 L727.5,218.0 L728.0,216.9 L728.5,215.7 L729.0,214.6 L729.5,213.5 L730.0,212.4 L730.5,211.2 L731.0,210.1 L731.5,209.0 L732.0,207.9 L732.5,206.8 L733.0,205.7 L733.5,204.6 L734.0,203.5 L734.5,202.4 L735.0,201.3 L735.5,200.2 L736.0,199.1 L736.5,198.0 L737.0,196.9 L737.5,195.8 L738.0,194.8 L738.5,193.7 L739.0,192.6 L739.5,191.5 L740.0,190.5 L740.5,189.4 L741.0,188.3 L741.5,187.3 L742.0,186.2 L742.5,185.2 L743.0,184.1 L743.5,183.1 L744.0,182.0 L744.5,181.0 L745.0,180.0 L745.5,178.9 L746.0,177.9 L746.5,176.9 L747.0,175.8 L747.5,174.8 L748.0,173.8 L748.5,172.8 L749.0,171.8 L749.5,170.8 L750.0,169.8 L750.5,168.8 L751.0,167.8 L751.5,166.8 L752.0,165.8 L752.5,164.8 L753.0,163.8 L753.5,162.9 L754.0,161.9 L754.5,160.9 L755.0,159.9 L755.5,159.0 L756.0,158.0 L756.5,157.1 L757.0,156.1 L757.5,155.2 L758.0,154.2 L758.5,153.3 L759.0,152.3 L759.5,151.4 L760.0,150.5 L760.5,149.6 L761.0,148.6 L761.5,147.7 L762.0,146.8 L762.5,145.9 L763.0,145.0 L763.5,144.1 L764.0,143.2 L764.5,142.3 L765.0,141.4 L765.5,140.5 L766.0,139.6 L766.5,138.8 L767.0,137.9 L767.5,137.0 L768.0,136.2 L768.5,135.3 L769.0,134.5 L769.5,133.6 L770.0,132.8 L770.5,131.9 L771.0,131.1 L771.5,130.2 L772.0,129.4 L772.5,128.6 L773.0,127.8 L773.5,127.0 L774.0,126.2 L774.5,125.3 L775.0,124.5 L775.5,123.7 L776.0,123.0 L776.5,122.2 L777.0,121.4 L777.5,120.6 L778.0,119.8 L778.5,119.1 L779.0,118.3 L779.5,117.5 L780.0,116.8 L780.5,116.0 L781.0,115.3 L781.5,114.6 L782.0,113.8 L782.5,113.1 L783.0,112.4 L783.5,111.7 L784.0,110.9 L784.5,110.2 L785.0,109.5 L785.5,108.8 L786.0,108.1 L786.5,107.5 L787.0,106.8 L787.5,106.1 L788.0,105.4 L788.5,104.8 L789.0,104.1 L789.5,103.4 L790.0,102.8 L790.5,102.1 L791.0,101.5 L791.5,100.9 L792.0,100.2 L792.5,99.6 L793.0,99.0 L793.5,98.4 L794.0,97.8 L794.5,97.2 L795.0,96.6 L795.5,96.0 L796.0,95.4 L796.5,94.8 L797.0,94.2 L797.5,93.7 L798.0,93.1 L798.5,92.5 L799.0,92.0 L799.5,91.4 L800.0,90.9 L800.5,90.4 L801.0,89.8 L801.5,89.3 L802.0,88.8 L802.5,88.3 L803.0,87.8 L803.5,87.3 L804.0,86.8 L804.5,86.3 L805.0,85.8 L805.5,85.4 L806.0,84.9 L806.5,84.4 L807.0,84.0 L807.5,83.5 L808.0,83.1 L808.5,82.6 L809.0,82.2 L809.5,81.8 L810.0,81.4 L810.5,80.9 L811.0,80.5 L811.5,80.1 L812.0,79.7 L812.5,79.3 L813.0,79.0 L813.5,78.6 L814.0,78.2 L814.5,77.9 L815.0,77.5 L815.5,77.2 L816.0,76.8 L816.4,76.5" fill="none" stroke="#000" stroke-width="3.2" stroke-linecap="round" stroke-dasharray="8.2 13.2" stroke-dashoffset="-1.5"/>
<rect x="905" y="409" width="413" height="351" fill="#fff"/>
<circle cx="984.0" cy="429.3" r="8.2" fill="#FFC000"/>
<text x="999.5" y="437.4" font-size="25.5" textLength="99.2" lengthAdjust="spacingAndGlyphs">Achelata</text>
<circle cx="984.0" cy="468.2" r="8.2" fill="#4472C4"/>
<text x="999.5" y="476.3" font-size="25.5" textLength="106.0" lengthAdjust="spacingAndGlyphs">Anomura</text>
<circle cx="984.0" cy="507.1" r="8.2" fill="#A5A5A5"/>
<text x="999.5" y="515.2" font-size="25.5" textLength="110.5" lengthAdjust="spacingAndGlyphs">Astacidea</text>
<circle cx="984.0" cy="546.0" r="8.2" fill="#C55A11"/>
<text x="999.5" y="554.1" font-size="25.5" textLength="116.0" lengthAdjust="spacingAndGlyphs">Brachyura</text>
<circle cx="984.0" cy="584.9" r="8.2" fill="#548235"/>
<text x="999.5" y="593.0" font-size="25.5" textLength="86.0" lengthAdjust="spacingAndGlyphs">Caridea</text>
<circle cx="984.0" cy="623.8" r="8.2" fill="#7030A0"/>
<text x="999.5" y="631.9" font-size="25.5" textLength="209.0" lengthAdjust="spacingAndGlyphs">Dendrobranchiata</text>
<rect x="976.5" y="655.2" width="15" height="15" fill="#fff" stroke="#000" stroke-width="2.4"/>
<text x="999.5" y="670.8" font-size="25.5" textLength="263.0" lengthAdjust="spacingAndGlyphs">Ibacus novemdentatus</text>
<circle cx="984.0" cy="701.6" r="7.6" fill="#BFBFBF" stroke="#000" stroke-width="2.4"/>
<text x="999.5" y="709.7" font-size="25.5" textLength="280.0" lengthAdjust="spacingAndGlyphs">Scyllarides squammosus</text>
<path d="M984.0,732.0 L992.8,748.7 L975.2,748.7 Z" fill="#000"/>
<text x="999.5" y="748.6" font-size="25.5" textLength="238.0" lengthAdjust="spacingAndGlyphs">Parribacus japonicus</text>
<text transform="translate(158.6,862.3) scale(1,1.06)" font-size="35.5" text-anchor="middle">380</text>
<text transform="translate(231.1,862.3) scale(1,1.06)" font-size="35.5" text-anchor="middle">400</text>
<text transform="translate(303.7,862.3) scale(1,1.06)" font-size="35.5" text-anchor="middle">420</text>
<text transform="translate(376.2,862.3) scale(1,1.06)" font-size="35.5" text-anchor="middle">440</text>
<text transform="translate(448.7,862.3) scale(1,1.06)" font-size="35.5" text-anchor="middle">460</text>
<text transform="translate(521.2,862.3) scale(1,1.06)" font-size="35.5" text-anchor="middle">480</text>
<text transform="translate(593.8,862.3) scale(1,1.06)" font-size="35.5" text-anchor="middle">500</text>
<text transform="translate(666.3,862.3) scale(1,1.06)" font-size="35.5" text-anchor="middle">520</text>
<text transform="translate(738.8,862.3) scale(1,1.06)" font-size="35.5" text-anchor="middle">540</text>
<text transform="translate(811.3,862.3) scale(1,1.06)" font-size="35.5" text-anchor="middle">560</text>
<text transform="translate(883.9,862.3) scale(1,1.06)" font-size="35.5" text-anchor="middle">580</text>
<text transform="translate(956.4,862.3) scale(1,1.06)" font-size="35.5" text-anchor="middle">600</text>
<text transform="translate(1028.9,862.3) scale(1,1.06)" font-size="35.5" text-anchor="middle">620</text>
<text transform="translate(1101.4,862.3) scale(1,1.06)" font-size="35.5" text-anchor="middle">640</text>
<text transform="translate(1174.0,862.3) scale(1,1.06)" font-size="35.5" text-anchor="middle">660</text>
<text transform="translate(1246.5,862.3) scale(1,1.06)" font-size="35.5" text-anchor="middle">680</text>
<text transform="translate(1319.0,862.3) scale(1,1.06)" font-size="35.5" text-anchor="middle">700</text>
<text transform="translate(124,26.7) scale(1,1.06)" font-size="35.5" text-anchor="end">1</text>
<text transform="translate(124,234.5) scale(1,1.06)" font-size="35.5" text-anchor="end">10</text>
<text transform="translate(124,442.4) scale(1,1.06)" font-size="35.5" text-anchor="end">100</text>
<text transform="translate(124,650.2) scale(1,1.06)" font-size="35.5" text-anchor="end">1000</text>
<text x="662" y="965.7" font-size="34" text-anchor="middle" textLength="163" lengthAdjust="spacingAndGlyphs">λmax (nm)</text>
<text transform="translate(28.2,407.4) rotate(-90)" x="0" y="0" font-size="33" text-anchor="middle" textLength="210" lengthAdjust="spacingAndGlyphs">Depth (log m)</text>
</svg></body></html>
